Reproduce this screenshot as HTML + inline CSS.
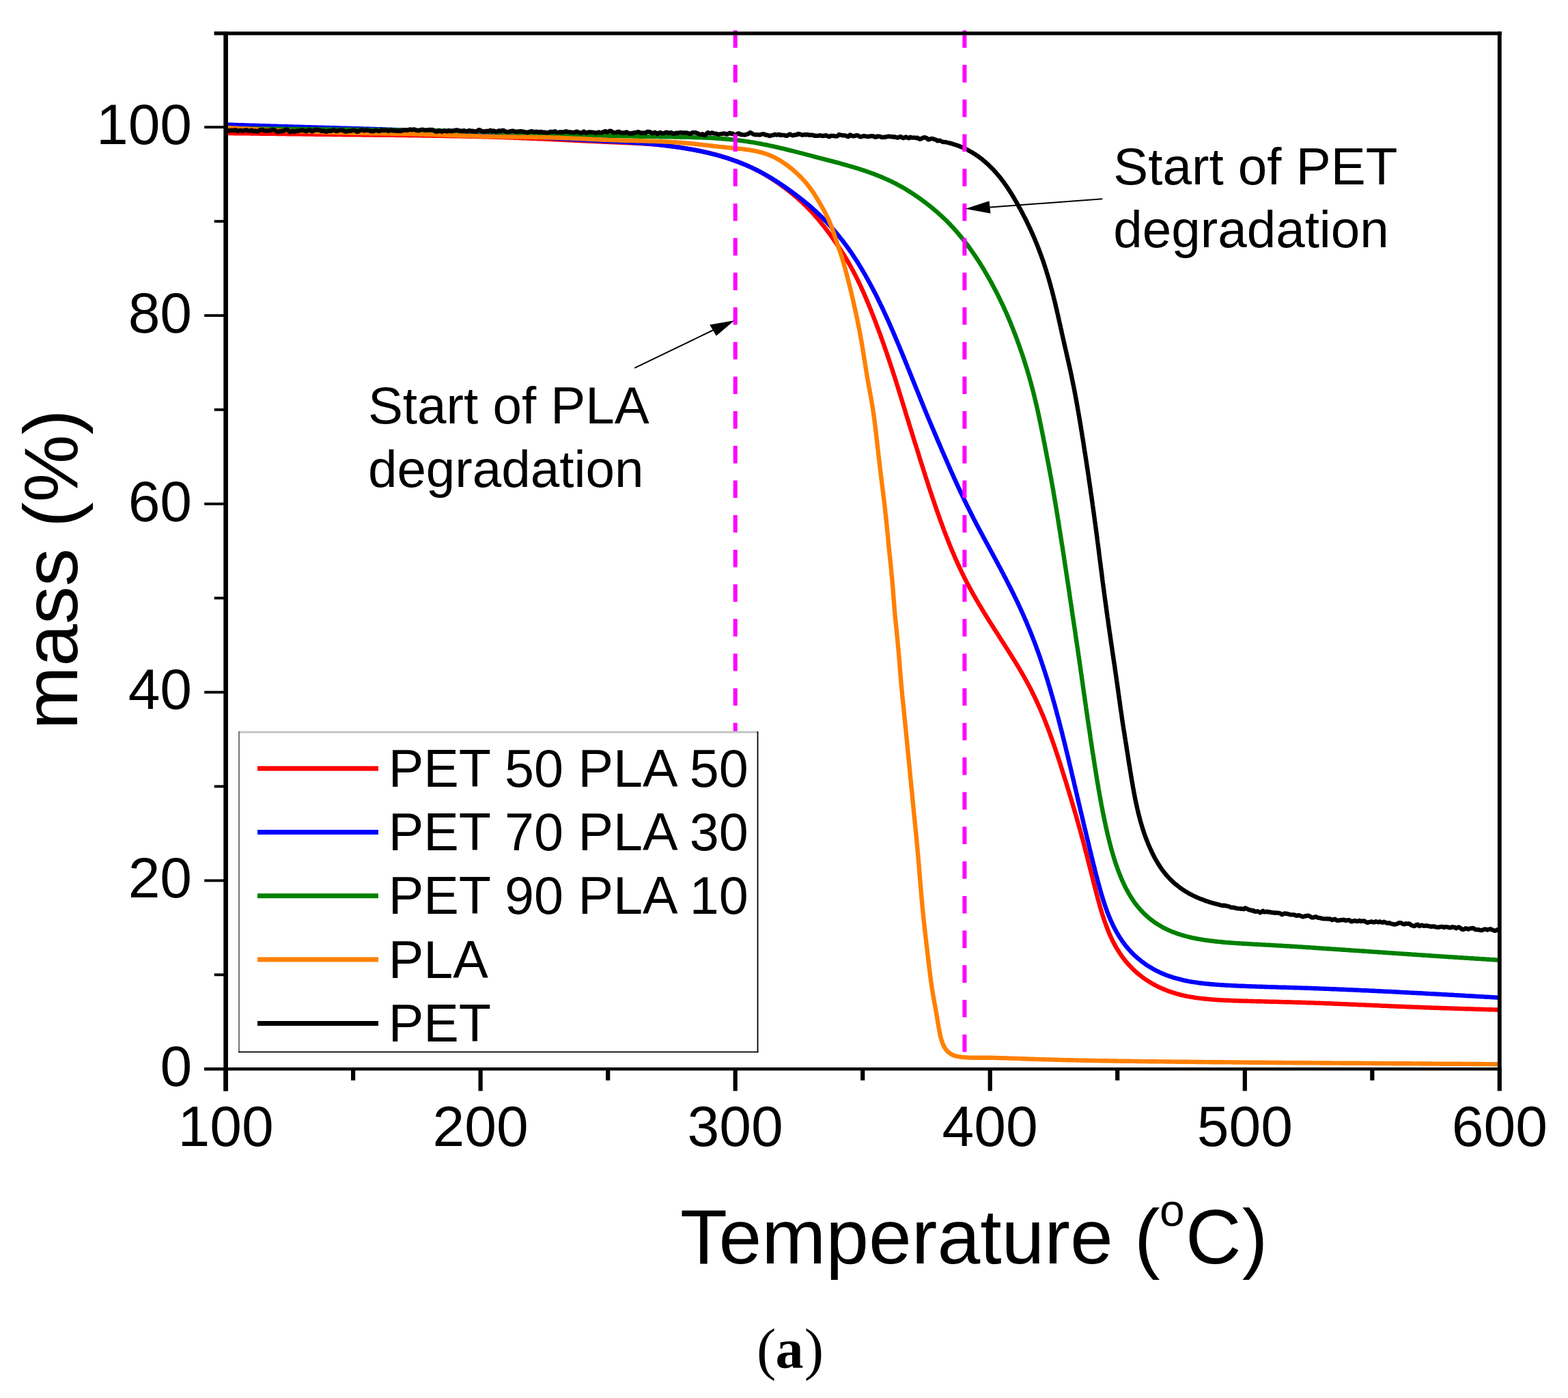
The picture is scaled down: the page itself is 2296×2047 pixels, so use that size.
<!DOCTYPE html>
<html><head><meta charset="utf-8"><title>TGA mass vs temperature</title>
<style>html,body{margin:0;padding:0;background:#fff;}body{width:2296px;height:2047px;overflow:hidden;}svg{display:block;}text{font-family:'Liberation Sans', sans-serif;fill:#000;}</style>
</head><body>
<svg xmlns="http://www.w3.org/2000/svg" width="2296" height="2047" viewBox="0 0 2296 2047">
<rect width="2296" height="2047" fill="#fff"/>
<defs><clipPath id="pc"><rect x="330.6" y="48.8" width="1867.2" height="1516.4"/></clipPath></defs>
<g clip-path="url(#pc)" fill="none" stroke-width="6.4" stroke-linejoin="round" stroke-linecap="butt">
<path d="M331.0 195.0L333.0 195.0L335.0 195.1L337.0 195.1L339.0 195.1L341.0 195.1L343.0 195.2L345.0 195.2L347.0 195.2L349.0 195.2L351.0 195.3L353.0 195.3L355.0 195.3L357.0 195.3L359.0 195.4L361.0 195.4L363.0 195.4L365.0 195.4L367.0 195.5L369.0 195.5L371.0 195.5L373.0 195.6L375.0 195.6L377.0 195.6L379.0 195.6L381.0 195.7L383.0 195.7L385.0 195.7L387.0 195.7L389.0 195.8L390.9 195.8L392.9 195.8L394.9 195.8L396.9 195.9L398.9 195.9L400.9 195.9L402.9 195.9L404.9 196.0L406.9 196.0L408.9 196.0L410.9 196.0L412.9 196.1L414.9 196.1L416.9 196.1L418.9 196.1L420.9 196.2L422.9 196.2L424.9 196.2L426.9 196.2L428.9 196.3L430.9 196.3L432.9 196.3L434.9 196.3L436.9 196.4L438.9 196.4L440.9 196.4L442.9 196.4L444.9 196.5L446.9 196.5L448.9 196.5L450.9 196.5L452.9 196.6L454.9 196.6L456.9 196.6L458.9 196.6L460.9 196.7L462.9 196.7L464.9 196.7L466.9 196.7L468.9 196.8L470.9 196.8L472.9 196.8L474.9 196.8L476.9 196.9L478.9 196.9L480.9 196.9L482.9 196.9L484.9 197.0L486.9 197.0L488.9 197.0L490.9 197.0L492.9 197.0L494.9 197.1L496.9 197.1L498.9 197.1L500.9 197.1L502.9 197.2L504.9 197.2L506.9 197.2L508.9 197.2L510.9 197.2L512.9 197.3L514.8 197.3L516.8 197.3L518.8 197.3L520.8 197.4L522.8 197.4L524.8 197.4L526.8 197.4L528.8 197.4L530.8 197.5L532.8 197.5L534.8 197.5L536.8 197.5L538.8 197.5L540.8 197.6L542.8 197.6L544.8 197.6L546.8 197.6L548.8 197.7L550.8 197.7L552.8 197.7L554.8 197.7L556.8 197.7L558.8 197.8L560.8 197.8L562.8 197.8L564.8 197.8L566.8 197.8L568.8 197.9L570.8 197.9L572.8 197.9L574.8 197.9L576.8 197.9L578.8 198.0L580.8 198.0L582.8 198.0L584.8 198.0L586.8 198.1L588.8 198.1L590.8 198.1L592.8 198.1L594.8 198.1L596.8 198.2L598.8 198.2L600.8 198.2L602.8 198.2L604.8 198.3L606.8 198.3L608.8 198.3L610.8 198.3L612.8 198.4L614.8 198.4L616.8 198.4L618.8 198.5L620.8 198.5L622.8 198.5L624.8 198.5L626.8 198.6L628.8 198.6L630.8 198.6L632.8 198.7L634.8 198.7L636.8 198.7L638.8 198.7L640.8 198.8L642.8 198.8L644.8 198.8L646.7 198.9L648.7 198.9L650.7 199.0L652.7 199.0L654.7 199.0L656.7 199.1L658.7 199.1L660.7 199.1L662.7 199.2L664.7 199.2L666.7 199.3L668.7 199.3L670.7 199.3L672.7 199.4L674.7 199.4L676.7 199.5L678.7 199.5L680.7 199.5L682.7 199.6L684.7 199.6L686.7 199.7L688.7 199.7L690.7 199.8L692.7 199.8L694.7 199.9L696.7 199.9L698.7 200.0L700.7 200.0L702.7 200.1L704.7 200.1L706.7 200.2L708.7 200.3L710.7 200.3L712.7 200.4L714.7 200.4L716.7 200.5L718.7 200.5L720.7 200.6L722.7 200.7L724.7 200.7L726.7 200.8L728.7 200.9L730.7 200.9L732.7 201.0L734.6 201.1L736.6 201.1L738.6 201.2L740.6 201.3L742.6 201.3L744.6 201.4L746.6 201.5L748.6 201.6L750.6 201.6L752.6 201.7L754.6 201.8L756.6 201.9L758.6 201.9L760.6 202.0L762.6 202.1L764.6 202.2L766.6 202.3L768.6 202.3L770.6 202.4L772.6 202.5L774.6 202.6L776.6 202.7L778.6 202.8L780.6 202.8L782.6 202.9L784.6 203.0L786.6 203.1L788.6 203.2L790.6 203.3L792.6 203.4L794.6 203.4L796.6 203.5L798.6 203.6L800.5 203.7L802.5 203.8L804.5 203.9L806.5 204.0L808.5 204.1L810.5 204.2L812.5 204.3L814.5 204.4L816.5 204.4L818.5 204.5L820.5 204.6L822.5 204.7L824.5 204.8L826.5 204.9L828.5 205.0L830.5 205.1L832.5 205.2L834.5 205.3L836.5 205.4L838.5 205.5L840.5 205.6L842.5 205.7L844.5 205.8L846.5 205.9L848.5 206.0L850.5 206.1L852.5 206.2L854.5 206.3L856.4 206.4L858.4 206.5L860.4 206.6L862.4 206.7L864.4 206.8L866.4 206.8L868.4 206.9L870.4 207.0L872.4 207.1L874.4 207.2L876.4 207.3L878.4 207.4L880.4 207.5L882.4 207.6L884.4 207.7L886.4 207.8L888.4 207.9L890.4 207.9L892.4 208.0L894.4 208.1L896.4 208.2L898.4 208.3L900.4 208.4L902.4 208.5L904.4 208.5L906.4 208.6L908.4 208.7L910.4 208.8L912.4 208.9L914.4 209.0L916.4 209.0L918.4 209.1L920.4 209.2L922.3 209.3L924.3 209.4L926.3 209.5L928.3 209.6L930.3 209.7L932.3 209.8L934.3 209.9L936.3 210.0L938.3 210.1L940.3 210.2L942.3 210.3L944.3 210.5L946.3 210.6L948.3 210.7L950.3 210.9L952.3 211.0L954.3 211.2L956.2 211.3L958.2 211.5L960.2 211.7L962.2 211.9L964.2 212.0L966.2 212.2L968.2 212.4L970.2 212.6L972.2 212.9L974.1 213.1L976.1 213.3L978.1 213.5L980.1 213.8L982.1 214.0L984.1 214.3L986.0 214.5L988.0 214.8L990.0 215.1L992.0 215.4L994.0 215.6L995.9 215.9L997.9 216.2L999.9 216.5L1001.9 216.9L1003.8 217.2L1005.8 217.5L1007.8 217.8L1009.8 218.2L1011.7 218.5L1013.7 218.9L1015.7 219.2L1017.6 219.6L1019.6 220.0L1021.6 220.3L1023.5 220.7L1025.5 221.1L1027.4 221.6L1029.4 222.0L1031.4 222.4L1033.3 222.8L1035.3 223.3L1037.2 223.7L1039.1 224.2L1041.1 224.7L1043.0 225.2L1045.0 225.7L1046.9 226.2L1048.8 226.7L1050.8 227.2L1052.7 227.7L1054.6 228.3L1056.5 228.9L1058.4 229.4L1060.3 230.0L1062.2 230.6L1064.2 231.2L1066.0 231.8L1067.9 232.4L1069.8 233.1L1071.7 233.7L1073.6 234.4L1075.5 235.1L1077.4 235.7L1079.2 236.4L1081.1 237.1L1083.0 237.9L1084.8 238.6L1086.7 239.3L1088.5 240.1L1090.3 240.9L1092.2 241.6L1094.0 242.4L1095.8 243.2L1097.6 244.1L1099.4 244.9L1101.2 245.7L1103.0 246.6L1104.8 247.5L1106.6 248.4L1108.4 249.3L1110.2 250.2L1111.9 251.1L1113.7 252.1L1115.4 253.0L1117.2 254.0L1118.9 255.0L1120.6 256.0L1122.3 257.0L1124.0 258.0L1125.8 259.0L1127.4 260.1L1129.1 261.2L1130.8 262.2L1132.5 263.3L1134.2 264.4L1135.8 265.5L1137.5 266.6L1139.1 267.8L1140.7 268.9L1142.4 270.1L1144.0 271.2L1145.6 272.4L1147.2 273.6L1148.8 274.8L1150.4 276.0L1152.0 277.2L1153.6 278.4L1155.1 279.7L1156.7 280.9L1158.2 282.2L1159.8 283.4L1161.3 284.7L1162.8 286.0L1164.4 287.3L1165.9 288.5L1167.4 289.9L1168.9 291.2L1170.3 292.5L1171.8 293.8L1173.3 295.2L1174.7 296.5L1176.2 297.9L1177.6 299.3L1179.0 300.6L1180.4 302.0L1181.9 303.4L1183.2 304.8L1184.6 306.3L1186.0 307.7L1187.4 309.1L1188.7 310.6L1190.1 312.0L1191.4 313.5L1192.7 315.0L1194.0 316.5L1195.3 318.0L1196.6 319.5L1197.9 321.0L1199.2 322.5L1200.4 324.0L1201.7 325.6L1203.0 327.1L1204.2 328.7L1205.4 330.2L1206.7 331.8L1207.9 333.3L1209.1 334.9L1210.3 336.5L1211.5 338.1L1212.7 339.7L1213.9 341.3L1215.1 342.9L1216.3 344.5L1217.4 346.1L1218.6 347.7L1219.7 349.4L1220.9 351.0L1222.0 352.6L1223.2 354.3L1224.3 355.9L1225.4 357.6L1226.5 359.2L1227.7 360.9L1228.8 362.5L1229.9 364.2L1230.9 365.9L1232.0 367.5L1233.1 369.2L1234.2 370.9L1235.2 372.6L1236.3 374.3L1237.3 376.0L1238.4 377.7L1239.4 379.4L1240.4 381.1L1241.4 382.9L1242.4 384.6L1243.4 386.3L1244.4 388.0L1245.4 389.8L1246.3 391.5L1247.3 393.3L1248.3 395.0L1249.2 396.8L1250.1 398.6L1251.1 400.3L1252.0 402.1L1252.9 403.9L1253.8 405.6L1254.7 407.4L1255.6 409.2L1256.4 411.0L1257.3 412.8L1258.2 414.6L1259.0 416.4L1259.9 418.2L1260.7 420.0L1261.5 421.9L1262.4 423.7L1263.2 425.5L1264.0 427.3L1264.8 429.1L1265.6 431.0L1266.4 432.8L1267.2 434.6L1268.0 436.5L1268.7 438.3L1269.5 440.2L1270.3 442.0L1271.1 443.9L1271.8 445.7L1272.6 447.6L1273.3 449.4L1274.1 451.3L1274.8 453.1L1275.6 455.0L1276.3 456.8L1277.0 458.7L1277.8 460.6L1278.5 462.4L1279.2 464.3L1279.9 466.2L1280.7 468.0L1281.4 469.9L1282.1 471.8L1282.8 473.6L1283.5 475.5L1284.2 477.4L1284.9 479.3L1285.6 481.1L1286.3 483.0L1287.0 484.9L1287.7 486.8L1288.4 488.6L1289.1 490.5L1289.7 492.4L1290.4 494.3L1291.1 496.2L1291.8 498.1L1292.4 499.9L1293.1 501.8L1293.8 503.7L1294.4 505.6L1295.1 507.5L1295.7 509.4L1296.4 511.3L1297.1 513.2L1297.7 515.0L1298.4 516.9L1299.0 518.8L1299.6 520.7L1300.3 522.6L1300.9 524.5L1301.6 526.4L1302.2 528.3L1302.8 530.2L1303.5 532.1L1304.1 534.0L1304.7 535.9L1305.3 537.8L1306.0 539.7L1306.6 541.6L1307.2 543.5L1307.8 545.4L1308.4 547.3L1309.0 549.2L1309.7 551.1L1310.3 553.0L1310.9 554.9L1311.5 556.8L1312.1 558.7L1312.7 560.6L1313.3 562.5L1313.9 564.4L1314.5 566.4L1315.1 568.3L1315.7 570.2L1316.3 572.1L1316.8 574.0L1317.4 575.9L1318.0 577.8L1318.6 579.7L1319.2 581.6L1319.8 583.5L1320.4 585.5L1321.0 587.4L1321.6 589.3L1322.1 591.2L1322.7 593.1L1323.3 595.0L1323.9 596.9L1324.5 598.8L1325.1 600.7L1325.7 602.6L1326.2 604.6L1326.8 606.5L1327.4 608.4L1328.0 610.3L1328.6 612.2L1329.2 614.1L1329.8 616.0L1330.4 617.9L1330.9 619.8L1331.5 621.7L1332.1 623.7L1332.7 625.6L1333.3 627.5L1333.9 629.4L1334.5 631.3L1335.1 633.2L1335.7 635.1L1336.3 637.0L1336.8 638.9L1337.4 640.8L1338.0 642.8L1338.6 644.7L1339.2 646.6L1339.8 648.5L1340.4 650.4L1341.0 652.3L1341.6 654.2L1342.2 656.1L1342.8 658.0L1343.4 659.9L1344.0 661.8L1344.6 663.7L1345.2 665.7L1345.8 667.6L1346.3 669.5L1346.9 671.4L1347.5 673.3L1348.1 675.2L1348.7 677.1L1349.3 679.0L1349.9 680.9L1350.6 682.8L1351.2 684.7L1351.8 686.6L1352.4 688.5L1353.0 690.4L1353.6 692.3L1354.2 694.2L1354.8 696.2L1355.4 698.1L1356.0 700.0L1356.6 701.9L1357.3 703.8L1357.9 705.7L1358.5 707.6L1359.1 709.5L1359.7 711.4L1360.3 713.3L1361.0 715.2L1361.6 717.1L1362.2 719.0L1362.8 720.9L1363.5 722.8L1364.1 724.7L1364.7 726.6L1365.4 728.5L1366.0 730.4L1366.7 732.2L1367.3 734.1L1367.9 736.0L1368.6 737.9L1369.2 739.8L1369.9 741.7L1370.5 743.6L1371.2 745.5L1371.8 747.4L1372.5 749.3L1373.2 751.2L1373.8 753.0L1374.5 754.9L1375.2 756.8L1375.8 758.7L1376.5 760.6L1377.2 762.5L1377.9 764.3L1378.6 766.2L1379.2 768.1L1379.9 770.0L1380.6 771.8L1381.3 773.7L1382.0 775.6L1382.7 777.5L1383.4 779.3L1384.1 781.2L1384.9 783.1L1385.6 784.9L1386.3 786.8L1387.0 788.7L1387.8 790.5L1388.5 792.4L1389.2 794.2L1390.0 796.1L1390.7 797.9L1391.5 799.8L1392.2 801.6L1393.0 803.5L1393.7 805.3L1394.5 807.2L1395.3 809.0L1396.1 810.8L1396.9 812.7L1397.6 814.5L1398.4 816.3L1399.2 818.2L1400.0 820.0L1400.9 821.8L1401.7 823.6L1402.5 825.5L1403.3 827.3L1404.2 829.1L1405.0 830.9L1405.8 832.7L1406.7 834.5L1407.5 836.3L1408.4 838.1L1409.3 839.9L1410.2 841.7L1411.0 843.5L1411.9 845.3L1412.8 847.1L1413.7 848.8L1414.6 850.6L1415.5 852.4L1416.5 854.2L1417.4 855.9L1418.3 857.7L1419.3 859.4L1420.2 861.2L1421.2 862.9L1422.1 864.7L1423.1 866.4L1424.1 868.2L1425.0 869.9L1426.0 871.7L1427.0 873.4L1428.0 875.1L1429.0 876.9L1430.0 878.6L1431.0 880.3L1432.0 882.0L1433.0 883.8L1434.0 885.5L1435.1 887.2L1436.1 888.9L1437.1 890.6L1438.1 892.3L1439.2 894.1L1440.2 895.8L1441.3 897.5L1442.3 899.2L1443.4 900.9L1444.4 902.6L1445.5 904.3L1446.5 906.0L1447.6 907.7L1448.6 909.4L1449.7 911.1L1450.8 912.7L1451.8 914.4L1452.9 916.1L1454.0 917.8L1455.1 919.5L1456.1 921.2L1457.2 922.9L1458.3 924.6L1459.4 926.3L1460.5 927.9L1461.5 929.6L1462.6 931.3L1463.7 933.0L1464.8 934.7L1465.9 936.4L1466.9 938.0L1468.0 939.7L1469.1 941.4L1470.2 943.1L1471.2 944.8L1472.3 946.5L1473.4 948.2L1474.5 949.8L1475.6 951.5L1476.6 953.2L1477.7 954.9L1478.8 956.6L1479.8 958.3L1480.9 960.0L1482.0 961.7L1483.0 963.4L1484.1 965.1L1485.1 966.8L1486.2 968.5L1487.2 970.2L1488.3 971.9L1489.3 973.6L1490.3 975.3L1491.4 977.0L1492.4 978.7L1493.4 980.5L1494.4 982.2L1495.4 983.9L1496.4 985.6L1497.4 987.3L1498.4 989.1L1499.4 990.8L1500.4 992.5L1501.3 994.3L1502.3 996.0L1503.3 997.8L1504.2 999.5L1505.2 1001.3L1506.1 1003.0L1507.0 1004.8L1508.0 1006.6L1508.9 1008.3L1509.8 1010.1L1510.7 1011.9L1511.6 1013.7L1512.5 1015.5L1513.3 1017.3L1514.2 1019.0L1515.1 1020.8L1515.9 1022.6L1516.8 1024.4L1517.6 1026.2L1518.5 1028.1L1519.3 1029.9L1520.1 1031.7L1521.0 1033.5L1521.8 1035.3L1522.6 1037.1L1523.4 1039.0L1524.2 1040.8L1524.9 1042.6L1525.7 1044.5L1526.5 1046.3L1527.3 1048.2L1528.0 1050.0L1528.8 1051.8L1529.5 1053.7L1530.3 1055.5L1531.0 1057.4L1531.7 1059.3L1532.4 1061.1L1533.2 1063.0L1533.9 1064.9L1534.6 1066.7L1535.3 1068.6L1536.0 1070.5L1536.7 1072.3L1537.4 1074.2L1538.1 1076.1L1538.7 1078.0L1539.4 1079.8L1540.1 1081.7L1540.7 1083.6L1541.4 1085.5L1542.1 1087.4L1542.7 1089.3L1543.4 1091.2L1544.0 1093.1L1544.7 1094.9L1545.3 1096.8L1545.9 1098.7L1546.6 1100.6L1547.2 1102.5L1547.8 1104.4L1548.5 1106.3L1549.1 1108.2L1549.7 1110.1L1550.3 1112.0L1551.0 1113.9L1551.6 1115.8L1552.2 1117.7L1552.8 1119.6L1553.4 1121.5L1554.0 1123.4L1554.6 1125.4L1555.2 1127.3L1555.8 1129.2L1556.4 1131.1L1557.0 1133.0L1557.6 1134.9L1558.2 1136.8L1558.8 1138.7L1559.4 1140.6L1560.0 1142.5L1560.6 1144.4L1561.2 1146.3L1561.8 1148.3L1562.4 1150.2L1562.9 1152.1L1563.5 1154.0L1564.1 1155.9L1564.7 1157.8L1565.3 1159.7L1565.9 1161.6L1566.4 1163.6L1567.0 1165.5L1567.6 1167.4L1568.2 1169.3L1568.8 1171.2L1569.3 1173.1L1569.9 1175.0L1570.5 1177.0L1571.0 1178.9L1571.6 1180.8L1572.2 1182.7L1572.7 1184.6L1573.3 1186.5L1573.9 1188.5L1574.4 1190.4L1575.0 1192.3L1575.5 1194.2L1576.1 1196.1L1576.6 1198.1L1577.2 1200.0L1577.7 1201.9L1578.3 1203.8L1578.8 1205.7L1579.3 1207.7L1579.9 1209.6L1580.4 1211.5L1581.0 1213.5L1581.5 1215.4L1582.0 1217.3L1582.5 1219.2L1583.1 1221.2L1583.6 1223.1L1584.1 1225.0L1584.6 1227.0L1585.2 1228.9L1585.7 1230.8L1586.2 1232.8L1586.7 1234.7L1587.2 1236.6L1587.7 1238.6L1588.2 1240.5L1588.7 1242.4L1589.2 1244.4L1589.7 1246.3L1590.3 1248.3L1590.8 1250.2L1591.3 1252.1L1591.8 1254.1L1592.3 1256.0L1592.7 1258.0L1593.2 1259.9L1593.7 1261.9L1594.2 1263.8L1594.7 1265.7L1595.2 1267.7L1595.7 1269.6L1596.2 1271.6L1596.7 1273.5L1597.2 1275.5L1597.7 1277.4L1598.2 1279.4L1598.7 1281.3L1599.2 1283.3L1599.7 1285.2L1600.1 1287.2L1600.6 1289.1L1601.1 1291.1L1601.6 1293.0L1602.1 1295.0L1602.6 1296.9L1603.1 1298.9L1603.6 1300.8L1604.1 1302.8L1604.6 1304.7L1605.1 1306.7L1605.6 1308.6L1606.2 1310.6L1606.7 1312.5L1607.2 1314.5L1607.7 1316.4L1608.2 1318.4L1608.8 1320.3L1609.3 1322.3L1609.8 1324.2L1610.4 1326.1L1610.9 1328.1L1611.5 1330.0L1612.1 1331.9L1612.6 1333.9L1613.2 1335.8L1613.8 1337.7L1614.4 1339.6L1615.0 1341.5L1615.6 1343.4L1616.3 1345.4L1616.9 1347.3L1617.6 1349.1L1618.2 1351.0L1618.9 1352.9L1619.6 1354.8L1620.3 1356.7L1621.0 1358.5L1621.7 1360.4L1622.4 1362.3L1623.2 1364.1L1623.9 1366.0L1624.7 1367.8L1625.5 1369.6L1626.3 1371.4L1627.2 1373.2L1628.0 1375.0L1628.9 1376.8L1629.7 1378.6L1630.7 1380.3L1631.6 1382.1L1632.5 1383.8L1633.5 1385.6L1634.5 1387.3L1635.5 1389.0L1636.5 1390.7L1637.5 1392.4L1638.6 1394.0L1639.7 1395.7L1640.8 1397.3L1641.9 1398.9L1643.0 1400.5L1644.2 1402.1L1645.4 1403.7L1646.6 1405.2L1647.8 1406.8L1649.1 1408.3L1650.4 1409.8L1651.6 1411.3L1653.0 1412.7L1654.3 1414.2L1655.6 1415.6L1657.0 1417.0L1658.4 1418.4L1659.8 1419.8L1661.2 1421.1L1662.7 1422.5L1664.2 1423.8L1665.6 1425.1L1667.2 1426.3L1668.7 1427.6L1670.2 1428.8L1671.8 1430.0L1673.4 1431.2L1674.9 1432.3L1676.6 1433.5L1678.2 1434.6L1679.8 1435.7L1681.5 1436.7L1683.2 1437.8L1684.8 1438.8L1686.5 1439.8L1688.3 1440.8L1690.0 1441.7L1691.7 1442.7L1693.5 1443.6L1695.2 1444.5L1697.0 1445.3L1698.8 1446.2L1700.6 1447.0L1702.4 1447.8L1704.3 1448.5L1706.1 1449.3L1707.9 1450.0L1709.8 1450.7L1711.6 1451.4L1713.5 1452.1L1715.4 1452.7L1717.3 1453.3L1719.2 1453.9L1721.1 1454.5L1723.0 1455.1L1724.9 1455.6L1726.8 1456.1L1728.7 1456.6L1730.7 1457.1L1732.6 1457.5L1734.6 1458.0L1736.5 1458.4L1738.5 1458.8L1740.4 1459.2L1742.4 1459.5L1744.4 1459.9L1746.3 1460.2L1748.3 1460.5L1750.3 1460.8L1752.3 1461.1L1754.2 1461.4L1756.2 1461.6L1758.2 1461.9L1760.2 1462.1L1762.2 1462.3L1764.2 1462.5L1766.2 1462.7L1768.2 1462.9L1770.2 1463.1L1772.2 1463.3L1774.2 1463.4L1776.2 1463.6L1778.2 1463.7L1780.2 1463.9L1782.2 1464.0L1784.2 1464.1L1786.2 1464.2L1788.2 1464.4L1790.3 1464.5L1792.3 1464.6L1794.3 1464.7L1796.3 1464.8L1798.3 1464.8L1800.3 1464.9L1802.3 1465.0L1804.3 1465.1L1806.3 1465.2L1808.3 1465.2L1810.3 1465.3L1812.3 1465.4L1814.4 1465.5L1816.4 1465.5L1818.4 1465.6L1820.4 1465.6L1822.4 1465.7L1824.4 1465.8L1826.4 1465.8L1828.4 1465.9L1830.4 1465.9L1832.4 1466.0L1834.4 1466.0L1836.4 1466.1L1838.4 1466.1L1840.4 1466.2L1842.4 1466.2L1844.4 1466.3L1846.4 1466.3L1848.4 1466.4L1850.5 1466.4L1852.5 1466.5L1854.5 1466.5L1856.5 1466.6L1858.5 1466.6L1860.5 1466.7L1862.5 1466.7L1864.5 1466.8L1866.5 1466.8L1868.5 1466.9L1870.5 1466.9L1872.5 1467.0L1874.5 1467.0L1876.5 1467.1L1878.5 1467.1L1880.5 1467.2L1882.5 1467.2L1884.5 1467.3L1886.5 1467.3L1888.5 1467.4L1890.5 1467.4L1892.5 1467.5L1894.5 1467.6L1896.5 1467.6L1898.4 1467.7L1900.4 1467.7L1902.4 1467.8L1904.4 1467.8L1906.4 1467.9L1908.4 1468.0L1910.4 1468.0L1912.4 1468.1L1914.4 1468.2L1916.4 1468.2L1918.4 1468.3L1920.4 1468.4L1922.4 1468.4L1924.4 1468.5L1926.4 1468.6L1928.4 1468.6L1930.4 1468.7L1932.4 1468.8L1934.4 1468.9L1936.4 1468.9L1938.4 1469.0L1940.4 1469.1L1942.4 1469.2L1944.4 1469.3L1946.4 1469.3L1948.4 1469.4L1950.4 1469.5L1952.4 1469.6L1954.4 1469.7L1956.4 1469.7L1958.4 1469.8L1960.3 1469.9L1962.3 1470.0L1964.3 1470.1L1966.3 1470.1L1968.3 1470.2L1970.3 1470.3L1972.3 1470.4L1974.3 1470.5L1976.3 1470.6L1978.3 1470.7L1980.3 1470.7L1982.3 1470.8L1984.3 1470.9L1986.3 1471.0L1988.3 1471.1L1990.3 1471.2L1992.3 1471.3L1994.3 1471.4L1996.3 1471.4L1998.3 1471.5L2000.3 1471.6L2002.3 1471.7L2004.3 1471.8L2006.3 1471.9L2008.3 1472.0L2010.3 1472.1L2012.3 1472.1L2014.2 1472.2L2016.2 1472.3L2018.2 1472.4L2020.2 1472.5L2022.2 1472.6L2024.2 1472.7L2026.2 1472.8L2028.2 1472.8L2030.2 1472.9L2032.2 1473.0L2034.2 1473.1L2036.2 1473.2L2038.2 1473.3L2040.2 1473.4L2042.2 1473.4L2044.2 1473.5L2046.2 1473.6L2048.2 1473.7L2050.2 1473.8L2052.2 1473.8L2054.2 1473.9L2056.2 1474.0L2058.2 1474.1L2060.2 1474.2L2062.2 1474.3L2064.2 1474.3L2066.2 1474.4L2068.2 1474.5L2070.2 1474.6L2072.2 1474.6L2074.2 1474.7L2076.1 1474.8L2078.1 1474.9L2080.1 1475.0L2082.1 1475.0L2084.1 1475.1L2086.1 1475.2L2088.1 1475.3L2090.1 1475.3L2092.1 1475.4L2094.1 1475.5L2096.1 1475.5L2098.1 1475.6L2100.1 1475.7L2102.1 1475.8L2104.1 1475.8L2106.1 1475.9L2108.1 1476.0L2110.1 1476.0L2112.1 1476.1L2114.1 1476.2L2116.1 1476.2L2118.1 1476.3L2120.1 1476.4L2122.1 1476.4L2124.1 1476.5L2126.1 1476.6L2128.1 1476.6L2130.1 1476.7L2132.1 1476.7L2134.1 1476.8L2136.1 1476.9L2138.1 1476.9L2140.1 1477.0L2142.1 1477.1L2144.1 1477.1L2146.1 1477.2L2148.1 1477.2L2150.1 1477.3L2152.0 1477.4L2154.0 1477.4L2156.0 1477.5L2158.0 1477.5L2160.0 1477.6L2162.0 1477.7L2164.0 1477.7L2166.0 1477.8L2168.0 1477.8L2170.0 1477.9L2172.0 1478.0L2174.0 1478.0L2176.0 1478.1L2178.0 1478.1L2180.0 1478.2L2182.0 1478.3L2184.0 1478.3L2186.0 1478.4L2188.0 1478.4L2190.0 1478.5L2192.0 1478.5L2194.0 1478.6" stroke="#ff0000"/>
<path d="M331.0 182.5L333.0 182.6L335.0 182.6L337.0 182.7L339.0 182.8L341.0 182.8L343.0 182.9L345.0 182.9L347.0 183.0L349.0 183.1L351.0 183.1L353.0 183.2L355.0 183.3L357.0 183.3L359.0 183.4L361.0 183.5L363.0 183.5L365.0 183.6L367.0 183.6L369.0 183.7L371.0 183.8L373.0 183.8L375.0 183.9L377.0 184.0L379.0 184.0L381.0 184.1L383.0 184.1L385.0 184.2L387.0 184.3L389.0 184.3L391.0 184.4L393.0 184.4L395.0 184.5L397.0 184.6L399.0 184.6L401.0 184.7L403.0 184.8L405.0 184.8L406.9 184.9L408.9 184.9L410.9 185.0L412.9 185.1L414.9 185.1L416.9 185.2L418.9 185.2L420.9 185.3L422.9 185.4L424.9 185.4L426.9 185.5L428.9 185.5L430.9 185.6L432.9 185.7L434.9 185.7L436.9 185.8L438.9 185.8L440.9 185.9L442.9 185.9L444.9 186.0L446.9 186.1L448.9 186.1L450.9 186.2L452.9 186.2L454.9 186.3L456.9 186.4L458.9 186.4L460.9 186.5L462.9 186.5L464.9 186.6L466.9 186.6L468.9 186.7L470.9 186.8L472.9 186.8L474.9 186.9L476.9 186.9L478.9 187.0L480.9 187.0L482.9 187.1L484.9 187.2L486.9 187.2L488.9 187.3L490.9 187.3L492.9 187.4L494.9 187.4L496.9 187.5L498.9 187.6L500.9 187.6L502.9 187.7L504.9 187.7L506.9 187.8L508.9 187.9L510.9 187.9L512.9 188.0L514.9 188.0L516.9 188.1L518.9 188.1L520.9 188.2L522.9 188.3L524.9 188.3L526.9 188.4L528.9 188.4L530.9 188.5L532.9 188.6L534.9 188.6L536.9 188.7L538.9 188.7L540.9 188.8L542.9 188.9L544.9 188.9L546.9 189.0L548.9 189.0L550.9 189.1L552.9 189.2L554.9 189.2L556.9 189.3L558.9 189.3L560.9 189.4L562.9 189.5L564.9 189.5L566.9 189.6L568.9 189.7L570.9 189.7L572.9 189.8L574.9 189.9L576.9 189.9L578.9 190.0L580.9 190.1L582.8 190.1L584.8 190.2L586.8 190.3L588.8 190.3L590.8 190.4L592.8 190.5L594.8 190.5L596.8 190.6L598.8 190.7L600.8 190.7L602.8 190.8L604.8 190.9L606.8 191.0L608.8 191.0L610.8 191.1L612.8 191.2L614.8 191.2L616.8 191.3L618.8 191.4L620.8 191.5L622.8 191.6L624.8 191.6L626.8 191.7L628.8 191.8L630.8 191.9L632.8 192.0L634.8 192.0L636.8 192.1L638.8 192.2L640.8 192.3L642.8 192.4L644.8 192.4L646.8 192.5L648.8 192.6L650.8 192.7L652.8 192.8L654.8 192.9L656.8 193.0L658.8 193.1L660.8 193.2L662.8 193.3L664.8 193.3L666.8 193.4L668.8 193.5L670.8 193.6L672.8 193.7L674.8 193.8L676.8 193.9L678.7 194.0L680.7 194.1L682.7 194.2L684.7 194.3L686.7 194.4L688.7 194.5L690.7 194.6L692.7 194.8L694.7 194.9L696.7 195.0L698.7 195.1L700.7 195.2L702.7 195.3L704.7 195.4L706.7 195.5L708.7 195.6L710.7 195.8L712.7 195.9L714.7 196.0L716.7 196.1L718.7 196.2L720.7 196.4L722.7 196.5L724.7 196.6L726.7 196.7L728.7 196.9L730.6 197.0L732.6 197.1L734.6 197.2L736.6 197.4L738.6 197.5L740.6 197.6L742.6 197.7L744.6 197.9L746.6 198.0L748.6 198.1L750.6 198.3L752.6 198.4L754.6 198.5L756.6 198.7L758.6 198.8L760.6 198.9L762.6 199.0L764.6 199.2L766.6 199.3L768.6 199.4L770.6 199.6L772.5 199.7L774.5 199.8L776.5 200.0L778.5 200.1L780.5 200.2L782.5 200.4L784.5 200.5L786.5 200.6L788.5 200.8L790.5 200.9L792.5 201.0L794.5 201.2L796.5 201.3L798.5 201.4L800.5 201.6L802.5 201.7L804.5 201.8L806.5 201.9L808.5 202.1L810.5 202.2L812.5 202.3L814.5 202.5L816.5 202.6L818.4 202.7L820.4 202.8L822.4 203.0L824.4 203.1L826.4 203.2L828.4 203.3L830.4 203.5L832.4 203.6L834.4 203.7L836.4 203.8L838.4 203.9L840.4 204.1L842.4 204.2L844.4 204.3L846.4 204.4L848.4 204.5L850.4 204.6L852.4 204.7L854.4 204.9L856.4 205.0L858.4 205.1L860.4 205.2L862.4 205.3L864.4 205.4L866.4 205.5L868.4 205.6L870.4 205.7L872.4 205.8L874.4 205.9L876.4 206.0L878.4 206.1L880.4 206.2L882.4 206.3L884.4 206.4L886.4 206.5L888.4 206.6L890.4 206.7L892.4 206.8L894.4 206.9L896.4 207.0L898.4 207.1L900.4 207.2L902.4 207.3L904.4 207.4L906.4 207.5L908.4 207.6L910.3 207.7L912.3 207.8L914.3 208.0L916.3 208.1L918.3 208.2L920.3 208.3L922.3 208.4L924.3 208.6L926.3 208.7L928.3 208.8L930.3 209.0L932.3 209.1L934.3 209.3L936.3 209.4L938.3 209.6L940.3 209.7L942.3 209.9L944.3 210.0L946.3 210.2L948.3 210.4L950.3 210.5L952.3 210.7L954.2 210.9L956.2 211.1L958.2 211.3L960.2 211.5L962.2 211.7L964.2 211.9L966.2 212.1L968.2 212.4L970.2 212.6L972.1 212.8L974.1 213.1L976.1 213.3L978.1 213.6L980.1 213.8L982.1 214.1L984.1 214.3L986.0 214.6L988.0 214.9L990.0 215.2L992.0 215.5L994.0 215.7L995.9 216.0L997.9 216.4L999.9 216.7L1001.9 217.0L1003.9 217.3L1005.8 217.6L1007.8 218.0L1009.8 218.3L1011.7 218.7L1013.7 219.0L1015.7 219.4L1017.7 219.7L1019.6 220.1L1021.6 220.5L1023.5 220.9L1025.5 221.3L1027.5 221.7L1029.4 222.1L1031.4 222.6L1033.3 223.0L1035.3 223.4L1037.2 223.9L1039.2 224.4L1041.1 224.8L1043.0 225.3L1045.0 225.8L1046.9 226.3L1048.8 226.8L1050.8 227.4L1052.7 227.9L1054.6 228.4L1056.5 229.0L1058.4 229.6L1060.3 230.1L1062.3 230.7L1064.2 231.3L1066.1 231.9L1068.0 232.6L1069.8 233.2L1071.7 233.8L1073.6 234.5L1075.5 235.2L1077.4 235.8L1079.2 236.5L1081.1 237.2L1083.0 237.9L1084.8 238.7L1086.7 239.4L1088.5 240.2L1090.4 240.9L1092.2 241.7L1094.0 242.5L1095.8 243.3L1097.7 244.1L1099.5 244.9L1101.3 245.7L1103.1 246.6L1104.9 247.4L1106.7 248.3L1108.5 249.2L1110.2 250.1L1112.0 251.0L1113.8 251.9L1115.5 252.9L1117.3 253.8L1119.0 254.8L1120.8 255.8L1122.5 256.7L1124.2 257.7L1125.9 258.7L1127.7 259.8L1129.4 260.8L1131.1 261.8L1132.8 262.9L1134.5 263.9L1136.1 265.0L1137.8 266.1L1139.5 267.2L1141.2 268.3L1142.8 269.4L1144.5 270.5L1146.2 271.6L1147.8 272.7L1149.5 273.9L1151.1 275.0L1152.7 276.2L1154.4 277.3L1156.0 278.5L1157.6 279.6L1159.3 280.8L1160.9 282.0L1162.5 283.2L1164.1 284.4L1165.7 285.6L1167.3 286.8L1168.9 288.0L1170.5 289.2L1172.0 290.4L1173.6 291.7L1175.2 292.9L1176.7 294.2L1178.3 295.4L1179.8 296.7L1181.4 298.0L1182.9 299.2L1184.4 300.5L1186.0 301.8L1187.5 303.1L1189.0 304.4L1190.5 305.8L1191.9 307.1L1193.4 308.4L1194.9 309.8L1196.3 311.1L1197.8 312.5L1199.2 313.9L1200.7 315.3L1202.1 316.7L1203.5 318.1L1204.9 319.5L1206.3 320.9L1207.7 322.3L1209.1 323.8L1210.5 325.2L1211.8 326.7L1213.2 328.1L1214.5 329.6L1215.9 331.1L1217.2 332.6L1218.5 334.1L1219.8 335.6L1221.1 337.1L1222.4 338.6L1223.7 340.1L1225.0 341.6L1226.3 343.2L1227.6 344.7L1228.8 346.3L1230.1 347.8L1231.3 349.4L1232.5 350.9L1233.8 352.5L1235.0 354.1L1236.2 355.7L1237.4 357.3L1238.6 358.9L1239.8 360.5L1240.9 362.1L1242.1 363.7L1243.3 365.4L1244.4 367.0L1245.6 368.6L1246.7 370.3L1247.8 371.9L1248.9 373.6L1250.0 375.2L1251.1 376.9L1252.2 378.6L1253.3 380.3L1254.4 381.9L1255.5 383.6L1256.5 385.3L1257.6 387.0L1258.6 388.7L1259.7 390.4L1260.7 392.1L1261.7 393.9L1262.7 395.6L1263.8 397.3L1264.8 399.0L1265.8 400.7L1266.8 402.5L1267.8 404.2L1268.7 406.0L1269.7 407.7L1270.7 409.5L1271.7 411.2L1272.6 413.0L1273.6 414.7L1274.5 416.5L1275.5 418.2L1276.4 420.0L1277.4 421.8L1278.3 423.5L1279.2 425.3L1280.1 427.1L1281.1 428.9L1282.0 430.6L1282.9 432.4L1283.8 434.2L1284.7 436.0L1285.6 437.8L1286.4 439.6L1287.3 441.4L1288.2 443.2L1289.1 445.0L1289.9 446.8L1290.8 448.6L1291.7 450.4L1292.5 452.2L1293.4 454.0L1294.2 455.8L1295.1 457.7L1295.9 459.5L1296.7 461.3L1297.6 463.1L1298.4 464.9L1299.2 466.8L1300.1 468.6L1300.9 470.4L1301.7 472.2L1302.5 474.1L1303.3 475.9L1304.1 477.7L1304.9 479.6L1305.7 481.4L1306.5 483.2L1307.3 485.1L1308.1 486.9L1308.9 488.8L1309.7 490.6L1310.5 492.4L1311.2 494.3L1312.0 496.1L1312.8 498.0L1313.6 499.8L1314.3 501.7L1315.1 503.5L1315.9 505.3L1316.7 507.2L1317.4 509.0L1318.2 510.9L1319.0 512.7L1319.7 514.6L1320.5 516.4L1321.2 518.3L1322.0 520.1L1322.8 522.0L1323.5 523.8L1324.3 525.7L1325.0 527.6L1325.8 529.4L1326.5 531.3L1327.3 533.1L1328.0 535.0L1328.8 536.8L1329.5 538.7L1330.3 540.5L1331.0 542.4L1331.8 544.2L1332.5 546.1L1333.3 548.0L1334.0 549.8L1334.8 551.7L1335.5 553.5L1336.2 555.4L1337.0 557.2L1337.7 559.1L1338.5 561.0L1339.2 562.8L1340.0 564.7L1340.7 566.5L1341.5 568.4L1342.2 570.2L1343.0 572.1L1343.7 573.9L1344.5 575.8L1345.2 577.6L1346.0 579.5L1346.7 581.4L1347.5 583.2L1348.2 585.1L1349.0 586.9L1349.7 588.8L1350.5 590.6L1351.2 592.5L1352.0 594.3L1352.7 596.2L1353.5 598.0L1354.2 599.9L1355.0 601.7L1355.8 603.6L1356.5 605.4L1357.3 607.3L1358.1 609.1L1358.8 611.0L1359.6 612.8L1360.4 614.7L1361.1 616.5L1361.9 618.3L1362.7 620.2L1363.5 622.0L1364.2 623.9L1365.0 625.7L1365.8 627.6L1366.6 629.4L1367.4 631.2L1368.1 633.1L1368.9 634.9L1369.7 636.8L1370.5 638.6L1371.3 640.4L1372.0 642.3L1372.8 644.1L1373.6 646.0L1374.4 647.8L1375.2 649.6L1376.0 651.5L1376.8 653.3L1377.6 655.2L1378.3 657.0L1379.1 658.8L1379.9 660.7L1380.7 662.5L1381.5 664.3L1382.3 666.2L1383.1 668.0L1383.9 669.8L1384.7 671.7L1385.5 673.5L1386.3 675.3L1387.1 677.2L1387.9 679.0L1388.7 680.8L1389.5 682.7L1390.3 684.5L1391.1 686.3L1391.9 688.2L1392.7 690.0L1393.5 691.8L1394.4 693.6L1395.2 695.5L1396.0 697.3L1396.8 699.1L1397.6 700.9L1398.5 702.8L1399.3 704.6L1400.1 706.4L1400.9 708.2L1401.8 710.0L1402.6 711.8L1403.4 713.7L1404.3 715.5L1405.1 717.3L1406.0 719.1L1406.8 720.9L1407.7 722.7L1408.5 724.5L1409.4 726.3L1410.2 728.1L1411.1 729.9L1411.9 731.7L1412.8 733.5L1413.7 735.3L1414.6 737.1L1415.4 738.9L1416.3 740.7L1417.2 742.5L1418.1 744.3L1419.0 746.1L1419.9 747.9L1420.8 749.7L1421.7 751.5L1422.6 753.3L1423.5 755.0L1424.4 756.8L1425.3 758.6L1426.2 760.4L1427.1 762.1L1428.1 763.9L1429.0 765.7L1429.9 767.5L1430.8 769.2L1431.8 771.0L1432.7 772.8L1433.6 774.5L1434.6 776.3L1435.5 778.1L1436.5 779.8L1437.4 781.6L1438.4 783.3L1439.3 785.1L1440.2 786.9L1441.2 788.6L1442.1 790.4L1443.1 792.1L1444.0 793.9L1445.0 795.7L1446.0 797.4L1446.9 799.2L1447.9 800.9L1448.8 802.7L1449.8 804.5L1450.7 806.2L1451.7 808.0L1452.6 809.7L1453.6 811.5L1454.5 813.3L1455.5 815.0L1456.4 816.8L1457.4 818.5L1458.3 820.3L1459.3 822.1L1460.2 823.8L1461.2 825.6L1462.1 827.4L1463.0 829.1L1464.0 830.9L1464.9 832.6L1465.9 834.4L1466.8 836.2L1467.7 838.0L1468.7 839.7L1469.6 841.5L1470.5 843.3L1471.4 845.0L1472.4 846.8L1473.3 848.6L1474.2 850.4L1475.1 852.1L1476.0 853.9L1476.9 855.7L1477.8 857.5L1478.7 859.3L1479.6 861.1L1480.5 862.8L1481.4 864.6L1482.3 866.4L1483.2 868.2L1484.1 870.0L1485.0 871.8L1485.8 873.6L1486.7 875.4L1487.6 877.2L1488.5 879.0L1489.3 880.8L1490.2 882.6L1491.0 884.4L1491.9 886.2L1492.7 888.0L1493.6 889.9L1494.4 891.7L1495.2 893.5L1496.0 895.3L1496.9 897.1L1497.7 899.0L1498.5 900.8L1499.3 902.6L1500.1 904.4L1500.9 906.3L1501.7 908.1L1502.5 909.9L1503.3 911.8L1504.0 913.6L1504.8 915.5L1505.6 917.3L1506.4 919.2L1507.1 921.0L1507.9 922.9L1508.6 924.7L1509.4 926.6L1510.1 928.4L1510.8 930.3L1511.6 932.1L1512.3 934.0L1513.0 935.9L1513.7 937.7L1514.5 939.6L1515.2 941.5L1515.9 943.3L1516.6 945.2L1517.3 947.1L1517.9 948.9L1518.6 950.8L1519.3 952.7L1520.0 954.6L1520.7 956.5L1521.3 958.3L1522.0 960.2L1522.7 962.1L1523.3 964.0L1524.0 965.9L1524.6 967.8L1525.3 969.7L1525.9 971.6L1526.5 973.5L1527.2 975.4L1527.8 977.3L1528.4 979.2L1529.0 981.1L1529.7 983.0L1530.3 984.9L1530.9 986.8L1531.5 988.7L1532.1 990.6L1532.7 992.5L1533.3 994.4L1533.9 996.3L1534.5 998.2L1535.0 1000.1L1535.6 1002.1L1536.2 1004.0L1536.8 1005.9L1537.3 1007.8L1537.9 1009.7L1538.5 1011.6L1539.0 1013.6L1539.6 1015.5L1540.1 1017.4L1540.7 1019.3L1541.2 1021.2L1541.8 1023.2L1542.3 1025.1L1542.9 1027.0L1543.4 1028.9L1544.0 1030.9L1544.5 1032.8L1545.0 1034.7L1545.5 1036.7L1546.1 1038.6L1546.6 1040.5L1547.1 1042.5L1547.6 1044.4L1548.1 1046.3L1548.7 1048.3L1549.2 1050.2L1549.7 1052.1L1550.2 1054.1L1550.7 1056.0L1551.2 1057.9L1551.7 1059.9L1552.2 1061.8L1552.7 1063.7L1553.2 1065.7L1553.7 1067.6L1554.2 1069.5L1554.7 1071.5L1555.2 1073.4L1555.7 1075.4L1556.1 1077.3L1556.6 1079.2L1557.1 1081.2L1557.6 1083.1L1558.1 1085.1L1558.6 1087.0L1559.0 1088.9L1559.5 1090.9L1560.0 1092.8L1560.5 1094.8L1560.9 1096.7L1561.4 1098.7L1561.9 1100.6L1562.4 1102.5L1562.8 1104.5L1563.3 1106.4L1563.8 1108.4L1564.2 1110.3L1564.7 1112.3L1565.2 1114.2L1565.6 1116.2L1566.1 1118.1L1566.6 1120.0L1567.0 1122.0L1567.5 1123.9L1567.9 1125.9L1568.4 1127.8L1568.9 1129.8L1569.3 1131.7L1569.8 1133.7L1570.2 1135.6L1570.7 1137.6L1571.1 1139.5L1571.6 1141.4L1572.1 1143.4L1572.5 1145.3L1573.0 1147.3L1573.4 1149.2L1573.9 1151.2L1574.3 1153.1L1574.8 1155.1L1575.3 1157.0L1575.7 1159.0L1576.2 1160.9L1576.6 1162.9L1577.1 1164.8L1577.5 1166.7L1578.0 1168.7L1578.4 1170.6L1578.9 1172.6L1579.4 1174.5L1579.8 1176.5L1580.3 1178.4L1580.7 1180.4L1581.2 1182.3L1581.7 1184.3L1582.1 1186.2L1582.6 1188.2L1583.0 1190.1L1583.5 1192.1L1584.0 1194.0L1584.4 1195.9L1584.9 1197.9L1585.3 1199.8L1585.8 1201.8L1586.3 1203.7L1586.7 1205.7L1587.2 1207.6L1587.7 1209.6L1588.1 1211.5L1588.6 1213.5L1589.1 1215.4L1589.5 1217.4L1590.0 1219.3L1590.5 1221.3L1590.9 1223.2L1591.4 1225.2L1591.9 1227.1L1592.3 1229.1L1592.8 1231.0L1593.3 1233.0L1593.8 1234.9L1594.2 1236.9L1594.7 1238.8L1595.2 1240.8L1595.6 1242.7L1596.1 1244.7L1596.6 1246.6L1597.1 1248.6L1597.5 1250.6L1598.0 1252.5L1598.5 1254.5L1599.0 1256.4L1599.5 1258.4L1599.9 1260.3L1600.4 1262.3L1600.9 1264.2L1601.4 1266.2L1601.9 1268.2L1602.4 1270.1L1602.9 1272.1L1603.3 1274.0L1603.8 1276.0L1604.3 1277.9L1604.8 1279.9L1605.3 1281.8L1605.9 1283.8L1606.4 1285.8L1606.9 1287.7L1607.4 1289.7L1607.9 1291.6L1608.4 1293.6L1609.0 1295.5L1609.5 1297.5L1610.0 1299.4L1610.6 1301.4L1611.1 1303.3L1611.7 1305.2L1612.2 1307.2L1612.8 1309.1L1613.4 1311.1L1614.0 1313.0L1614.6 1314.9L1615.1 1316.9L1615.8 1318.8L1616.4 1320.7L1617.0 1322.6L1617.6 1324.5L1618.3 1326.4L1618.9 1328.3L1619.6 1330.2L1620.3 1332.1L1620.9 1334.0L1621.6 1335.9L1622.4 1337.7L1623.1 1339.6L1623.8 1341.5L1624.6 1343.3L1625.4 1345.1L1626.1 1347.0L1627.0 1348.8L1627.8 1350.6L1628.6 1352.4L1629.5 1354.2L1630.3 1356.0L1631.2 1357.8L1632.1 1359.5L1633.1 1361.3L1634.0 1363.0L1635.0 1364.8L1636.0 1366.5L1637.0 1368.2L1638.0 1369.9L1639.0 1371.5L1640.1 1373.2L1641.2 1374.8L1642.3 1376.5L1643.4 1378.1L1644.5 1379.7L1645.7 1381.3L1646.9 1382.8L1648.1 1384.4L1649.3 1385.9L1650.6 1387.4L1651.8 1388.9L1653.1 1390.4L1654.4 1391.8L1655.8 1393.3L1657.1 1394.7L1658.5 1396.1L1659.9 1397.5L1661.3 1398.8L1662.7 1400.2L1664.2 1401.5L1665.7 1402.8L1667.1 1404.0L1668.7 1405.3L1670.2 1406.5L1671.7 1407.7L1673.3 1408.9L1674.9 1410.1L1676.5 1411.2L1678.1 1412.4L1679.7 1413.5L1681.4 1414.5L1683.0 1415.6L1684.7 1416.6L1686.4 1417.6L1688.1 1418.6L1689.8 1419.5L1691.6 1420.5L1693.3 1421.4L1695.1 1422.2L1696.8 1423.1L1698.6 1423.9L1700.4 1424.8L1702.2 1425.5L1704.1 1426.3L1705.9 1427.0L1707.7 1427.8L1709.6 1428.5L1711.5 1429.1L1713.3 1429.8L1715.2 1430.4L1717.1 1431.0L1719.0 1431.6L1720.9 1432.2L1722.8 1432.7L1724.7 1433.2L1726.7 1433.7L1728.6 1434.2L1730.5 1434.7L1732.5 1435.1L1734.4 1435.6L1736.4 1436.0L1738.4 1436.4L1740.3 1436.8L1742.3 1437.1L1744.3 1437.5L1746.2 1437.8L1748.2 1438.1L1750.2 1438.4L1752.2 1438.7L1754.2 1439.0L1756.2 1439.3L1758.1 1439.5L1760.1 1439.7L1762.1 1440.0L1764.1 1440.2L1766.1 1440.4L1768.1 1440.6L1770.1 1440.8L1772.1 1441.0L1774.1 1441.2L1776.2 1441.3L1778.2 1441.5L1780.2 1441.6L1782.2 1441.8L1784.2 1441.9L1786.2 1442.1L1788.2 1442.2L1790.2 1442.3L1792.2 1442.4L1794.2 1442.6L1796.2 1442.7L1798.2 1442.8L1800.3 1442.9L1802.3 1443.0L1804.3 1443.1L1806.3 1443.2L1808.3 1443.3L1810.3 1443.4L1812.3 1443.5L1814.3 1443.6L1816.3 1443.7L1818.3 1443.7L1820.3 1443.8L1822.4 1443.9L1824.4 1444.0L1826.4 1444.1L1828.4 1444.1L1830.4 1444.2L1832.4 1444.3L1834.4 1444.4L1836.4 1444.4L1838.4 1444.5L1840.4 1444.6L1842.4 1444.6L1844.4 1444.7L1846.4 1444.8L1848.4 1444.8L1850.4 1444.9L1852.4 1445.0L1854.4 1445.0L1856.4 1445.1L1858.4 1445.1L1860.4 1445.2L1862.4 1445.3L1864.4 1445.3L1866.4 1445.4L1868.4 1445.4L1870.4 1445.5L1872.4 1445.6L1874.4 1445.6L1876.4 1445.7L1878.4 1445.7L1880.4 1445.8L1882.4 1445.8L1884.4 1445.9L1886.4 1446.0L1888.4 1446.0L1890.4 1446.1L1892.4 1446.1L1894.4 1446.2L1896.4 1446.3L1898.4 1446.3L1900.4 1446.4L1902.4 1446.4L1904.4 1446.5L1906.4 1446.6L1908.4 1446.6L1910.4 1446.7L1912.4 1446.8L1914.4 1446.8L1916.4 1446.9L1918.4 1447.0L1920.4 1447.0L1922.4 1447.1L1924.4 1447.2L1926.4 1447.3L1928.4 1447.3L1930.4 1447.4L1932.4 1447.5L1934.4 1447.6L1936.4 1447.6L1938.4 1447.7L1940.4 1447.8L1942.4 1447.9L1944.4 1447.9L1946.4 1448.0L1948.4 1448.1L1950.4 1448.2L1952.4 1448.3L1954.4 1448.3L1956.4 1448.4L1958.4 1448.5L1960.4 1448.6L1962.4 1448.7L1964.4 1448.8L1966.4 1448.8L1968.4 1448.9L1970.3 1449.0L1972.3 1449.1L1974.3 1449.2L1976.3 1449.3L1978.3 1449.4L1980.3 1449.4L1982.3 1449.5L1984.3 1449.6L1986.3 1449.7L1988.3 1449.8L1990.3 1449.9L1992.3 1450.0L1994.3 1450.1L1996.3 1450.2L1998.3 1450.2L2000.3 1450.3L2002.3 1450.4L2004.3 1450.5L2006.3 1450.6L2008.3 1450.7L2010.3 1450.8L2012.3 1450.9L2014.3 1451.0L2016.3 1451.1L2018.3 1451.2L2020.3 1451.3L2022.3 1451.4L2024.3 1451.5L2026.3 1451.6L2028.3 1451.7L2030.3 1451.8L2032.3 1451.9L2034.3 1451.9L2036.3 1452.0L2038.3 1452.1L2040.3 1452.2L2042.3 1452.3L2044.3 1452.4L2046.2 1452.5L2048.2 1452.6L2050.2 1452.8L2052.2 1452.9L2054.2 1453.0L2056.2 1453.1L2058.2 1453.2L2060.2 1453.3L2062.2 1453.4L2064.2 1453.5L2066.2 1453.6L2068.2 1453.7L2070.2 1453.8L2072.2 1453.9L2074.2 1454.0L2076.2 1454.1L2078.2 1454.2L2080.2 1454.3L2082.2 1454.4L2084.2 1454.5L2086.2 1454.6L2088.2 1454.7L2090.2 1454.9L2092.2 1455.0L2094.2 1455.1L2096.2 1455.2L2098.2 1455.3L2100.2 1455.4L2102.2 1455.5L2104.2 1455.6L2106.2 1455.7L2108.2 1455.8L2110.1 1455.9L2112.1 1456.1L2114.1 1456.2L2116.1 1456.3L2118.1 1456.4L2120.1 1456.5L2122.1 1456.6L2124.1 1456.7L2126.1 1456.8L2128.1 1456.9L2130.1 1457.1L2132.1 1457.2L2134.1 1457.3L2136.1 1457.4L2138.1 1457.5L2140.1 1457.6L2142.1 1457.7L2144.1 1457.8L2146.1 1458.0L2148.1 1458.1L2150.1 1458.2L2152.1 1458.3L2154.1 1458.4L2156.1 1458.5L2158.1 1458.6L2160.1 1458.8L2162.1 1458.9L2164.1 1459.0L2166.1 1459.1L2168.0 1459.2L2170.0 1459.3L2172.0 1459.4L2174.0 1459.6L2176.0 1459.7L2178.0 1459.8L2180.0 1459.9L2182.0 1460.0L2184.0 1460.1L2186.0 1460.2L2188.0 1460.4L2190.0 1460.5L2192.0 1460.6L2194.0 1460.7" stroke="#0000ff"/>
<path d="M331.0 188.0L333.0 188.0L335.0 188.0L337.0 188.1L339.0 188.1L341.0 188.1L343.0 188.1L345.0 188.1L347.0 188.2L349.0 188.2L351.0 188.2L353.0 188.2L355.0 188.2L357.0 188.3L359.0 188.3L361.0 188.3L363.0 188.3L365.0 188.3L367.0 188.4L369.0 188.4L371.0 188.4L373.0 188.4L375.0 188.4L377.0 188.5L379.0 188.5L381.0 188.5L383.0 188.5L385.0 188.5L387.0 188.5L389.0 188.6L391.0 188.6L393.0 188.6L395.0 188.6L397.0 188.6L399.0 188.7L401.0 188.7L402.9 188.7L404.9 188.7L406.9 188.7L408.9 188.8L410.9 188.8L412.9 188.8L414.9 188.8L416.9 188.8L418.9 188.9L420.9 188.9L422.9 188.9L424.9 188.9L426.9 188.9L428.9 189.0L430.9 189.0L432.9 189.0L434.9 189.0L436.9 189.0L438.9 189.1L440.9 189.1L442.9 189.1L444.9 189.1L446.9 189.1L448.9 189.2L450.9 189.2L452.9 189.2L454.9 189.2L456.9 189.2L458.9 189.3L460.9 189.3L462.9 189.3L464.9 189.3L466.9 189.3L468.9 189.4L470.9 189.4L472.9 189.4L474.9 189.4L476.9 189.4L478.9 189.5L480.9 189.5L482.9 189.5L484.9 189.5L486.9 189.5L488.9 189.6L490.9 189.6L492.9 189.6L494.9 189.6L496.9 189.6L498.9 189.7L500.9 189.7L502.9 189.7L504.9 189.7L506.9 189.7L508.9 189.8L510.9 189.8L512.9 189.8L514.9 189.8L516.9 189.8L518.9 189.9L520.9 189.9L522.9 189.9L524.9 189.9L526.9 189.9L528.9 190.0L530.9 190.0L532.9 190.0L534.9 190.0L536.9 190.0L538.9 190.1L540.9 190.1L542.9 190.1L544.9 190.1L546.9 190.1L548.8 190.2L550.8 190.2L552.8 190.2L554.8 190.2L556.8 190.2L558.8 190.3L560.8 190.3L562.8 190.3L564.8 190.3L566.8 190.4L568.8 190.4L570.8 190.4L572.8 190.4L574.8 190.4L576.8 190.5L578.8 190.5L580.8 190.5L582.8 190.5L584.8 190.6L586.8 190.6L588.8 190.6L590.8 190.6L592.8 190.7L594.8 190.7L596.8 190.7L598.8 190.7L600.8 190.8L602.8 190.8L604.8 190.8L606.8 190.8L608.8 190.9L610.8 190.9L612.8 190.9L614.8 190.9L616.8 191.0L618.8 191.0L620.8 191.0L622.8 191.1L624.8 191.1L626.8 191.1L628.8 191.1L630.8 191.2L632.8 191.2L634.8 191.2L636.8 191.3L638.8 191.3L640.8 191.3L642.8 191.4L644.8 191.4L646.8 191.4L648.8 191.5L650.8 191.5L652.8 191.5L654.8 191.6L656.8 191.6L658.8 191.7L660.8 191.7L662.8 191.7L664.8 191.8L666.8 191.8L668.8 191.9L670.8 191.9L672.8 191.9L674.8 192.0L676.8 192.0L678.8 192.1L680.8 192.1L682.7 192.2L684.7 192.2L686.7 192.2L688.7 192.3L690.7 192.3L692.7 192.4L694.7 192.4L696.7 192.5L698.7 192.5L700.7 192.6L702.7 192.6L704.7 192.7L706.7 192.7L708.7 192.8L710.7 192.9L712.7 192.9L714.7 193.0L716.7 193.0L718.7 193.1L720.7 193.1L722.7 193.2L724.7 193.3L726.7 193.3L728.7 193.4L730.7 193.4L732.7 193.5L734.7 193.6L736.7 193.6L738.7 193.7L740.7 193.8L742.7 193.8L744.7 193.9L746.7 194.0L748.7 194.0L750.7 194.1L752.7 194.2L754.7 194.2L756.7 194.3L758.7 194.4L760.7 194.4L762.7 194.5L764.7 194.6L766.7 194.7L768.6 194.7L770.6 194.8L772.6 194.9L774.6 194.9L776.6 195.0L778.6 195.1L780.6 195.2L782.6 195.2L784.6 195.3L786.6 195.4L788.6 195.4L790.6 195.5L792.6 195.6L794.6 195.7L796.6 195.7L798.6 195.8L800.6 195.9L802.6 195.9L804.6 196.0L806.6 196.1L808.6 196.2L810.6 196.2L812.6 196.3L814.6 196.4L816.6 196.5L818.6 196.5L820.6 196.6L822.6 196.7L824.6 196.7L826.6 196.8L828.6 196.9L830.6 196.9L832.6 197.0L834.6 197.1L836.6 197.1L838.6 197.2L840.6 197.3L842.6 197.3L844.5 197.4L846.5 197.5L848.5 197.5L850.5 197.6L852.5 197.7L854.5 197.7L856.5 197.8L858.5 197.8L860.5 197.9L862.5 198.0L864.5 198.0L866.5 198.1L868.5 198.1L870.5 198.2L872.5 198.2L874.5 198.3L876.5 198.3L878.5 198.4L880.5 198.5L882.5 198.5L884.5 198.6L886.5 198.6L888.5 198.7L890.5 198.7L892.5 198.8L894.5 198.8L896.5 198.8L898.5 198.9L900.5 198.9L902.5 199.0L904.5 199.0L906.5 199.1L908.5 199.1L910.5 199.2L912.5 199.2L914.5 199.2L916.5 199.3L918.5 199.3L920.5 199.4L922.5 199.4L924.5 199.4L926.5 199.5L928.5 199.5L930.5 199.6L932.5 199.6L934.5 199.6L936.5 199.7L938.5 199.7L940.5 199.7L942.5 199.8L944.5 199.8L946.5 199.8L948.5 199.9L950.5 199.9L952.5 199.9L954.5 200.0L956.5 200.0L958.5 200.0L960.5 200.1L962.5 200.1L964.5 200.1L966.5 200.2L968.5 200.2L970.5 200.2L972.5 200.3L974.5 200.3L976.5 200.3L978.5 200.4L980.5 200.4L982.5 200.4L984.5 200.4L986.5 200.5L988.5 200.5L990.5 200.5L992.5 200.6L994.5 200.6L996.5 200.7L998.5 200.7L1000.5 200.7L1002.5 200.8L1004.5 200.8L1006.5 200.9L1008.5 200.9L1010.5 200.9L1012.5 201.0L1014.5 201.0L1016.5 201.1L1018.5 201.2L1020.5 201.2L1022.5 201.3L1024.5 201.3L1026.5 201.4L1028.5 201.5L1030.5 201.6L1032.5 201.6L1034.5 201.7L1036.4 201.8L1038.4 201.9L1040.4 202.0L1042.4 202.1L1044.4 202.2L1046.4 202.3L1048.4 202.5L1050.4 202.6L1052.4 202.7L1054.4 202.9L1056.4 203.0L1058.4 203.2L1060.3 203.3L1062.3 203.5L1064.3 203.7L1066.3 203.8L1068.3 204.0L1070.3 204.2L1072.3 204.4L1074.2 204.6L1076.2 204.9L1078.2 205.1L1080.2 205.3L1082.2 205.6L1084.1 205.8L1086.1 206.1L1088.1 206.3L1090.1 206.6L1092.0 206.9L1094.0 207.2L1096.0 207.5L1097.9 207.8L1099.9 208.1L1101.9 208.4L1103.9 208.7L1105.8 209.1L1107.8 209.4L1109.7 209.8L1111.7 210.1L1113.7 210.5L1115.6 210.9L1117.6 211.3L1119.5 211.6L1121.5 212.0L1123.4 212.4L1125.4 212.8L1127.4 213.3L1129.3 213.7L1131.3 214.1L1133.2 214.5L1135.2 215.0L1137.1 215.4L1139.1 215.8L1141.0 216.3L1142.9 216.8L1144.9 217.2L1146.8 217.7L1148.8 218.1L1150.7 218.6L1152.7 219.1L1154.6 219.6L1156.5 220.1L1158.5 220.5L1160.4 221.0L1162.4 221.5L1164.3 222.0L1166.2 222.5L1168.2 223.0L1170.1 223.5L1172.0 224.0L1174.0 224.5L1175.9 225.0L1177.9 225.5L1179.8 226.0L1181.7 226.5L1183.7 227.0L1185.6 227.5L1187.5 228.0L1189.5 228.5L1191.4 229.1L1193.3 229.6L1195.3 230.1L1197.2 230.6L1199.2 231.1L1201.1 231.6L1203.0 232.1L1205.0 232.6L1206.9 233.1L1208.8 233.6L1210.8 234.1L1212.7 234.6L1214.7 235.1L1216.6 235.6L1218.5 236.1L1220.5 236.6L1222.4 237.2L1224.3 237.7L1226.3 238.2L1228.2 238.7L1230.1 239.2L1232.1 239.8L1234.0 240.3L1235.9 240.8L1237.8 241.4L1239.8 241.9L1241.7 242.5L1243.6 243.0L1245.5 243.6L1247.5 244.1L1249.4 244.7L1251.3 245.3L1253.2 245.9L1255.1 246.4L1257.0 247.0L1258.9 247.6L1260.8 248.3L1262.7 248.9L1264.6 249.5L1266.5 250.1L1268.4 250.8L1270.3 251.4L1272.2 252.1L1274.0 252.7L1275.9 253.4L1277.8 254.1L1279.7 254.8L1281.5 255.5L1283.4 256.2L1285.2 256.9L1287.1 257.7L1288.9 258.4L1290.8 259.2L1292.6 260.0L1294.4 260.8L1296.2 261.6L1298.0 262.4L1299.9 263.2L1301.7 264.0L1303.5 264.9L1305.2 265.7L1307.0 266.6L1308.8 267.5L1310.6 268.4L1312.4 269.3L1314.1 270.3L1315.9 271.2L1317.6 272.2L1319.3 273.1L1321.1 274.1L1322.8 275.1L1324.5 276.1L1326.2 277.1L1327.9 278.1L1329.6 279.2L1331.3 280.2L1333.0 281.3L1334.7 282.4L1336.4 283.5L1338.0 284.5L1339.7 285.7L1341.3 286.8L1343.0 287.9L1344.6 289.0L1346.2 290.2L1347.9 291.4L1349.5 292.5L1351.1 293.7L1352.7 294.9L1354.3 296.1L1355.9 297.3L1357.5 298.5L1359.0 299.7L1360.6 301.0L1362.2 302.2L1363.7 303.5L1365.3 304.7L1366.8 306.0L1368.3 307.3L1369.8 308.6L1371.4 309.8L1372.9 311.2L1374.4 312.5L1375.8 313.8L1377.3 315.1L1378.8 316.5L1380.2 317.8L1381.7 319.2L1383.1 320.6L1384.6 321.9L1386.0 323.3L1387.4 324.7L1388.8 326.2L1390.2 327.6L1391.5 329.0L1392.9 330.5L1394.3 331.9L1395.6 333.4L1396.9 334.8L1398.3 336.3L1399.6 337.8L1400.9 339.3L1402.2 340.8L1403.5 342.3L1404.8 343.9L1406.0 345.4L1407.3 346.9L1408.5 348.5L1409.8 350.0L1411.0 351.6L1412.3 353.2L1413.5 354.7L1414.7 356.3L1415.9 357.9L1417.1 359.5L1418.3 361.1L1419.5 362.7L1420.6 364.3L1421.8 365.9L1422.9 367.6L1424.1 369.2L1425.2 370.8L1426.4 372.5L1427.5 374.1L1428.6 375.8L1429.7 377.4L1430.8 379.1L1431.9 380.8L1433.0 382.4L1434.1 384.1L1435.1 385.8L1436.2 387.5L1437.2 389.2L1438.3 390.9L1439.3 392.6L1440.4 394.3L1441.4 396.0L1442.4 397.8L1443.4 399.5L1444.4 401.2L1445.4 402.9L1446.4 404.7L1447.4 406.4L1448.4 408.1L1449.4 409.9L1450.4 411.6L1451.3 413.4L1452.3 415.1L1453.2 416.9L1454.2 418.7L1455.1 420.4L1456.1 422.2L1457.0 424.0L1457.9 425.7L1458.8 427.5L1459.8 429.3L1460.7 431.1L1461.6 432.9L1462.4 434.7L1463.3 436.5L1464.2 438.3L1465.1 440.1L1466.0 441.9L1466.8 443.7L1467.7 445.5L1468.5 447.3L1469.4 449.1L1470.2 450.9L1471.0 452.8L1471.8 454.6L1472.7 456.4L1473.5 458.2L1474.3 460.1L1475.1 461.9L1475.9 463.7L1476.6 465.6L1477.4 467.4L1478.2 469.3L1479.0 471.1L1479.7 473.0L1480.5 474.8L1481.2 476.7L1482.0 478.5L1482.7 480.4L1483.5 482.2L1484.2 484.1L1484.9 486.0L1485.6 487.8L1486.4 489.7L1487.1 491.6L1487.8 493.4L1488.5 495.3L1489.2 497.2L1489.8 499.1L1490.5 501.0L1491.2 502.8L1491.9 504.7L1492.6 506.6L1493.2 508.5L1493.9 510.4L1494.5 512.3L1495.2 514.2L1495.8 516.0L1496.5 517.9L1497.1 519.8L1497.7 521.7L1498.4 523.6L1499.0 525.5L1499.6 527.4L1500.2 529.3L1500.8 531.2L1501.4 533.2L1502.0 535.1L1502.6 537.0L1503.2 538.9L1503.8 540.8L1504.3 542.7L1504.9 544.6L1505.5 546.5L1506.0 548.5L1506.6 550.4L1507.1 552.3L1507.7 554.2L1508.2 556.1L1508.8 558.1L1509.3 560.0L1509.8 561.9L1510.3 563.9L1510.9 565.8L1511.4 567.7L1511.9 569.7L1512.4 571.6L1512.9 573.5L1513.4 575.5L1513.8 577.4L1514.3 579.3L1514.8 581.3L1515.3 583.2L1515.7 585.2L1516.2 587.1L1516.7 589.0L1517.1 591.0L1517.6 592.9L1518.0 594.9L1518.5 596.8L1518.9 598.8L1519.4 600.7L1519.8 602.7L1520.2 604.6L1520.6 606.6L1521.1 608.5L1521.5 610.5L1521.9 612.4L1522.3 614.4L1522.7 616.4L1523.1 618.3L1523.5 620.3L1523.9 622.2L1524.3 624.2L1524.7 626.1L1525.1 628.1L1525.5 630.1L1525.9 632.0L1526.3 634.0L1526.7 635.9L1527.1 637.9L1527.5 639.9L1527.9 641.8L1528.2 643.8L1528.6 645.8L1529.0 647.7L1529.4 649.7L1529.8 651.6L1530.2 653.6L1530.5 655.6L1530.9 657.5L1531.3 659.5L1531.7 661.5L1532.1 663.4L1532.5 665.4L1532.8 667.3L1533.2 669.3L1533.6 671.3L1534.0 673.2L1534.3 675.2L1534.7 677.2L1535.1 679.1L1535.5 681.1L1535.8 683.0L1536.2 685.0L1536.6 687.0L1536.9 688.9L1537.3 690.9L1537.7 692.9L1538.0 694.8L1538.4 696.8L1538.8 698.8L1539.1 700.7L1539.5 702.7L1539.8 704.7L1540.2 706.6L1540.5 708.6L1540.9 710.6L1541.2 712.5L1541.6 714.5L1541.9 716.5L1542.3 718.4L1542.6 720.4L1542.9 722.4L1543.3 724.3L1543.6 726.3L1543.9 728.3L1544.3 730.3L1544.6 732.2L1544.9 734.2L1545.3 736.2L1545.6 738.1L1545.9 740.1L1546.2 742.1L1546.6 744.1L1546.9 746.0L1547.2 748.0L1547.5 750.0L1547.9 751.9L1548.2 753.9L1548.5 755.9L1548.8 757.9L1549.1 759.8L1549.5 761.8L1549.8 763.8L1550.1 765.8L1550.4 767.7L1550.7 769.7L1551.0 771.7L1551.3 773.7L1551.6 775.6L1552.0 777.6L1552.3 779.6L1552.6 781.6L1552.9 783.5L1553.2 785.5L1553.5 787.5L1553.8 789.5L1554.1 791.4L1554.4 793.4L1554.7 795.4L1555.0 797.4L1555.4 799.3L1555.7 801.3L1556.0 803.3L1556.3 805.3L1556.6 807.2L1556.9 809.2L1557.2 811.2L1557.5 813.2L1557.8 815.1L1558.1 817.1L1558.4 819.1L1558.7 821.1L1559.0 823.0L1559.3 825.0L1559.6 827.0L1559.9 829.0L1560.2 830.9L1560.5 832.9L1560.8 834.9L1561.1 836.9L1561.4 838.8L1561.7 840.8L1562.0 842.8L1562.3 844.8L1562.6 846.7L1562.9 848.7L1563.2 850.7L1563.5 852.7L1563.8 854.6L1564.1 856.6L1564.4 858.6L1564.7 860.6L1565.0 862.6L1565.3 864.5L1565.6 866.5L1565.9 868.5L1566.1 870.5L1566.4 872.4L1566.7 874.4L1567.0 876.4L1567.3 878.4L1567.6 880.4L1567.9 882.3L1568.2 884.3L1568.5 886.3L1568.8 888.3L1569.1 890.2L1569.4 892.2L1569.6 894.2L1569.9 896.2L1570.2 898.1L1570.5 900.1L1570.8 902.1L1571.1 904.1L1571.4 906.1L1571.7 908.0L1572.0 910.0L1572.3 912.0L1572.6 914.0L1572.9 915.9L1573.2 917.9L1573.5 919.9L1573.8 921.9L1574.1 923.8L1574.4 925.8L1574.7 927.8L1574.9 929.8L1575.2 931.8L1575.5 933.7L1575.8 935.7L1576.1 937.7L1576.4 939.7L1576.7 941.6L1577.0 943.6L1577.3 945.6L1577.6 947.6L1577.9 949.5L1578.2 951.5L1578.4 953.5L1578.7 955.5L1579.0 957.5L1579.3 959.4L1579.6 961.4L1579.9 963.4L1580.2 965.4L1580.5 967.3L1580.7 969.3L1581.0 971.3L1581.3 973.3L1581.6 975.3L1581.9 977.2L1582.2 979.2L1582.4 981.2L1582.7 983.2L1583.0 985.2L1583.3 987.1L1583.6 989.1L1583.9 991.1L1584.1 993.1L1584.4 995.0L1584.7 997.0L1585.0 999.0L1585.3 1001.0L1585.5 1003.0L1585.8 1004.9L1586.1 1006.9L1586.4 1008.9L1586.7 1010.9L1586.9 1012.9L1587.2 1014.8L1587.5 1016.8L1587.8 1018.8L1588.1 1020.8L1588.4 1022.7L1588.6 1024.7L1588.9 1026.7L1589.2 1028.7L1589.5 1030.7L1589.8 1032.6L1590.1 1034.6L1590.3 1036.6L1590.6 1038.6L1590.9 1040.5L1591.2 1042.5L1591.5 1044.5L1591.8 1046.5L1592.1 1048.5L1592.4 1050.4L1592.6 1052.4L1592.9 1054.4L1593.2 1056.4L1593.5 1058.3L1593.8 1060.3L1594.1 1062.3L1594.4 1064.3L1594.7 1066.2L1595.0 1068.2L1595.3 1070.2L1595.6 1072.2L1595.9 1074.2L1596.2 1076.1L1596.5 1078.1L1596.7 1080.1L1597.0 1082.1L1597.3 1084.0L1597.6 1086.0L1597.9 1088.0L1598.2 1090.0L1598.5 1091.9L1598.8 1093.9L1599.1 1095.9L1599.4 1097.9L1599.7 1099.8L1600.0 1101.8L1600.4 1103.8L1600.7 1105.8L1601.0 1107.7L1601.3 1109.7L1601.6 1111.7L1601.9 1113.7L1602.2 1115.6L1602.5 1117.6L1602.8 1119.6L1603.1 1121.6L1603.4 1123.5L1603.7 1125.5L1604.1 1127.5L1604.4 1129.5L1604.7 1131.4L1605.0 1133.4L1605.3 1135.4L1605.7 1137.4L1606.0 1139.3L1606.3 1141.3L1606.6 1143.3L1607.0 1145.3L1607.3 1147.2L1607.6 1149.2L1608.0 1151.2L1608.3 1153.2L1608.6 1155.1L1609.0 1157.1L1609.3 1159.1L1609.7 1161.1L1610.0 1163.0L1610.4 1165.0L1610.7 1167.0L1611.1 1168.9L1611.4 1170.9L1611.8 1172.9L1612.2 1174.9L1612.5 1176.8L1612.9 1178.8L1613.3 1180.8L1613.7 1182.7L1614.0 1184.7L1614.4 1186.7L1614.8 1188.6L1615.2 1190.6L1615.6 1192.6L1616.0 1194.6L1616.4 1196.5L1616.8 1198.5L1617.2 1200.5L1617.6 1202.4L1618.0 1204.4L1618.4 1206.4L1618.9 1208.3L1619.3 1210.3L1619.7 1212.3L1620.2 1214.2L1620.6 1216.2L1621.0 1218.1L1621.5 1220.1L1622.0 1222.1L1622.4 1224.0L1622.9 1226.0L1623.4 1227.9L1623.9 1229.9L1624.3 1231.8L1624.8 1233.8L1625.3 1235.7L1625.9 1237.7L1626.4 1239.6L1626.9 1241.6L1627.4 1243.5L1628.0 1245.5L1628.5 1247.4L1629.1 1249.3L1629.7 1251.3L1630.2 1253.2L1630.8 1255.1L1631.4 1257.1L1632.0 1259.0L1632.6 1260.9L1633.3 1262.8L1633.9 1264.7L1634.5 1266.6L1635.2 1268.5L1635.9 1270.4L1636.5 1272.3L1637.2 1274.2L1637.9 1276.1L1638.6 1278.0L1639.4 1279.8L1640.1 1281.7L1640.9 1283.6L1641.6 1285.4L1642.4 1287.3L1643.2 1289.1L1644.0 1290.9L1644.9 1292.7L1645.7 1294.6L1646.6 1296.4L1647.4 1298.2L1648.3 1299.9L1649.2 1301.7L1650.2 1303.5L1651.1 1305.2L1652.1 1306.9L1653.1 1308.7L1654.1 1310.4L1655.1 1312.0L1656.1 1313.7L1657.2 1315.4L1658.3 1317.0L1659.4 1318.7L1660.5 1320.3L1661.6 1321.9L1662.8 1323.4L1664.0 1325.0L1665.2 1326.5L1666.4 1328.0L1667.7 1329.5L1669.0 1331.0L1670.3 1332.5L1671.6 1333.9L1672.9 1335.3L1674.3 1336.7L1675.7 1338.1L1677.1 1339.4L1678.5 1340.7L1679.9 1342.0L1681.4 1343.3L1682.9 1344.6L1684.4 1345.8L1685.9 1347.0L1687.5 1348.1L1689.0 1349.3L1690.6 1350.4L1692.2 1351.5L1693.8 1352.6L1695.5 1353.6L1697.1 1354.6L1698.8 1355.6L1700.5 1356.6L1702.2 1357.6L1703.9 1358.5L1705.6 1359.4L1707.4 1360.2L1709.2 1361.1L1710.9 1361.9L1712.7 1362.7L1714.5 1363.5L1716.3 1364.2L1718.2 1364.9L1720.0 1365.6L1721.9 1366.3L1723.7 1367.0L1725.6 1367.6L1727.5 1368.2L1729.4 1368.8L1731.3 1369.4L1733.2 1369.9L1735.1 1370.5L1737.0 1371.0L1738.9 1371.5L1740.9 1372.0L1742.8 1372.4L1744.7 1372.9L1746.7 1373.3L1748.6 1373.7L1750.6 1374.1L1752.6 1374.5L1754.5 1374.8L1756.5 1375.2L1758.5 1375.5L1760.5 1375.8L1762.5 1376.2L1764.5 1376.5L1766.5 1376.7L1768.4 1377.0L1770.4 1377.3L1772.4 1377.6L1774.4 1377.8L1776.4 1378.0L1778.4 1378.3L1780.5 1378.5L1782.5 1378.7L1784.5 1378.9L1786.5 1379.1L1788.5 1379.3L1790.5 1379.5L1792.5 1379.7L1794.5 1379.9L1796.5 1380.0L1798.5 1380.2L1800.5 1380.3L1802.6 1380.5L1804.6 1380.6L1806.6 1380.8L1808.6 1380.9L1810.6 1381.1L1812.6 1381.2L1814.6 1381.3L1816.7 1381.4L1818.7 1381.6L1820.7 1381.7L1822.7 1381.8L1824.7 1381.9L1826.7 1382.0L1828.7 1382.1L1830.7 1382.3L1832.8 1382.4L1834.8 1382.5L1836.8 1382.6L1838.8 1382.7L1840.8 1382.8L1842.8 1382.9L1844.8 1383.0L1846.8 1383.1L1848.8 1383.3L1850.8 1383.4L1852.8 1383.5L1854.9 1383.6L1856.9 1383.7L1858.9 1383.8L1860.9 1383.9L1862.9 1384.0L1864.9 1384.1L1866.9 1384.3L1868.9 1384.4L1870.9 1384.5L1872.9 1384.6L1874.9 1384.7L1876.9 1384.8L1878.9 1384.9L1880.9 1385.1L1882.9 1385.2L1884.9 1385.3L1886.9 1385.4L1888.9 1385.5L1890.9 1385.7L1892.9 1385.8L1894.9 1385.9L1896.9 1386.0L1898.9 1386.1L1900.9 1386.3L1902.9 1386.4L1904.9 1386.5L1906.8 1386.6L1908.8 1386.8L1910.8 1386.9L1912.8 1387.0L1914.8 1387.2L1916.8 1387.3L1918.8 1387.4L1920.8 1387.6L1922.8 1387.7L1924.8 1387.8L1926.8 1388.0L1928.8 1388.1L1930.8 1388.2L1932.8 1388.4L1934.8 1388.5L1936.8 1388.6L1938.8 1388.8L1940.8 1388.9L1942.7 1389.0L1944.7 1389.2L1946.7 1389.3L1948.7 1389.4L1950.7 1389.6L1952.7 1389.7L1954.7 1389.8L1956.7 1390.0L1958.7 1390.1L1960.7 1390.3L1962.7 1390.4L1964.7 1390.5L1966.7 1390.7L1968.7 1390.8L1970.7 1390.9L1972.6 1391.1L1974.6 1391.2L1976.6 1391.3L1978.6 1391.5L1980.6 1391.6L1982.6 1391.7L1984.6 1391.9L1986.6 1392.0L1988.6 1392.1L1990.6 1392.3L1992.6 1392.4L1994.6 1392.5L1996.6 1392.7L1998.6 1392.8L2000.6 1392.9L2002.6 1393.1L2004.5 1393.2L2006.5 1393.4L2008.5 1393.5L2010.5 1393.6L2012.5 1393.8L2014.5 1393.9L2016.5 1394.0L2018.5 1394.2L2020.5 1394.3L2022.5 1394.4L2024.5 1394.6L2026.5 1394.7L2028.5 1394.8L2030.5 1395.0L2032.5 1395.1L2034.4 1395.3L2036.4 1395.4L2038.4 1395.5L2040.4 1395.7L2042.4 1395.8L2044.4 1395.9L2046.4 1396.1L2048.4 1396.2L2050.4 1396.4L2052.4 1396.5L2054.4 1396.6L2056.4 1396.8L2058.4 1396.9L2060.4 1397.0L2062.4 1397.2L2064.4 1397.3L2066.3 1397.4L2068.3 1397.6L2070.3 1397.7L2072.3 1397.8L2074.3 1398.0L2076.3 1398.1L2078.3 1398.3L2080.3 1398.4L2082.3 1398.5L2084.3 1398.7L2086.3 1398.8L2088.3 1398.9L2090.3 1399.1L2092.3 1399.2L2094.3 1399.3L2096.3 1399.5L2098.3 1399.6L2100.3 1399.7L2102.2 1399.9L2104.2 1400.0L2106.2 1400.1L2108.2 1400.2L2110.2 1400.4L2112.2 1400.5L2114.2 1400.6L2116.2 1400.8L2118.2 1400.9L2120.2 1401.0L2122.2 1401.2L2124.2 1401.3L2126.2 1401.4L2128.2 1401.5L2130.2 1401.7L2132.2 1401.8L2134.2 1401.9L2136.2 1402.1L2138.1 1402.2L2140.1 1402.3L2142.1 1402.4L2144.1 1402.6L2146.1 1402.7L2148.1 1402.8L2150.1 1402.9L2152.1 1403.1L2154.1 1403.2L2156.1 1403.3L2158.1 1403.4L2160.1 1403.6L2162.1 1403.7L2164.1 1403.8L2166.1 1403.9L2168.1 1404.1L2170.1 1404.2L2172.1 1404.3L2174.1 1404.4L2176.0 1404.6L2178.0 1404.7L2180.0 1404.8L2182.0 1405.0L2184.0 1405.1L2186.0 1405.2L2188.0 1405.3L2190.0 1405.5L2192.0 1405.6L2194.0 1405.7" stroke="#008000"/>
<path d="M331.0 187.0L333.0 187.1L335.0 187.2L337.0 187.3L339.0 187.4L341.0 187.5L343.0 187.6L345.0 187.7L347.0 187.8L349.0 187.9L351.0 188.1L353.0 188.2L355.0 188.3L357.0 188.4L359.0 188.5L360.9 188.6L362.9 188.7L364.9 188.8L366.9 188.9L368.9 189.0L370.9 189.1L372.9 189.2L374.9 189.3L376.9 189.4L378.9 189.5L380.9 189.6L382.9 189.7L384.9 189.8L386.9 189.9L388.9 190.0L390.9 190.1L392.9 190.2L394.9 190.3L396.9 190.4L398.9 190.5L400.9 190.6L402.9 190.7L404.9 190.8L406.9 190.9L408.9 190.9L410.9 191.0L412.9 191.1L414.9 191.2L416.9 191.3L418.9 191.4L420.9 191.5L422.9 191.6L424.9 191.7L426.9 191.7L428.8 191.8L430.8 191.9L432.8 192.0L434.8 192.1L436.8 192.2L438.8 192.2L440.8 192.3L442.8 192.4L444.8 192.5L446.8 192.6L448.8 192.6L450.8 192.7L452.8 192.8L454.8 192.9L456.8 192.9L458.8 193.0L460.8 193.1L462.8 193.2L464.8 193.2L466.8 193.3L468.8 193.4L470.8 193.4L472.8 193.5L474.8 193.6L476.8 193.6L478.8 193.7L480.8 193.8L482.8 193.8L484.8 193.9L486.8 193.9L488.8 194.0L490.8 194.1L492.8 194.1L494.8 194.2L496.8 194.2L498.8 194.3L500.8 194.3L502.8 194.4L504.8 194.4L506.8 194.5L508.8 194.5L510.8 194.6L512.8 194.6L514.8 194.7L516.8 194.7L518.8 194.8L520.8 194.8L522.8 194.8L524.8 194.9L526.8 194.9L528.8 195.0L530.8 195.0L532.8 195.0L534.8 195.1L536.8 195.1L538.8 195.1L540.8 195.2L542.8 195.2L544.8 195.2L546.8 195.3L548.8 195.3L550.8 195.3L552.8 195.3L554.8 195.4L556.8 195.4L558.8 195.4L560.8 195.5L562.8 195.5L564.8 195.5L566.8 195.5L568.8 195.6L570.8 195.6L572.8 195.6L574.7 195.7L576.7 195.7L578.7 195.7L580.7 195.7L582.7 195.8L584.7 195.8L586.7 195.8L588.7 195.9L590.7 195.9L592.7 196.0L594.7 196.0L596.7 196.0L598.7 196.1L600.7 196.1L602.7 196.2L604.7 196.2L606.7 196.2L608.7 196.3L610.7 196.3L612.7 196.4L614.7 196.5L616.7 196.5L618.7 196.6L620.7 196.6L622.7 196.7L624.7 196.7L626.7 196.8L628.7 196.9L630.7 196.9L632.7 197.0L634.7 197.1L636.7 197.1L638.7 197.2L640.7 197.3L642.7 197.4L644.7 197.4L646.7 197.5L648.7 197.6L650.7 197.6L652.7 197.7L654.7 197.8L656.7 197.9L658.7 197.9L660.7 198.0L662.7 198.1L664.7 198.2L666.7 198.2L668.7 198.3L670.7 198.4L672.7 198.5L674.7 198.5L676.7 198.6L678.7 198.7L680.7 198.8L682.7 198.8L684.7 198.9L686.7 199.0L688.7 199.0L690.7 199.1L692.7 199.2L694.7 199.2L696.7 199.3L698.6 199.4L700.6 199.4L702.6 199.5L704.6 199.6L706.6 199.6L708.6 199.7L710.6 199.7L712.6 199.8L714.6 199.8L716.6 199.9L718.6 199.9L720.6 200.0L722.6 200.0L724.6 200.1L726.6 200.1L728.6 200.1L730.6 200.2L732.6 200.2L734.6 200.3L736.6 200.3L738.6 200.3L740.6 200.3L742.6 200.4L744.6 200.4L746.6 200.4L748.6 200.5L750.6 200.5L752.6 200.5L754.6 200.5L756.6 200.6L758.6 200.6L760.6 200.6L762.6 200.6L764.6 200.7L766.6 200.7L768.6 200.7L770.6 200.8L772.6 200.8L774.6 200.8L776.6 200.8L778.6 200.9L780.6 200.9L782.6 200.9L784.6 201.0L786.6 201.0L788.6 201.0L790.6 201.1L792.6 201.1L794.6 201.2L796.6 201.2L798.6 201.2L800.6 201.3L802.6 201.3L804.6 201.4L806.6 201.4L808.6 201.5L810.6 201.6L812.6 201.6L814.6 201.7L816.6 201.7L818.6 201.8L820.6 201.9L822.6 202.0L824.6 202.0L826.6 202.1L828.6 202.2L830.6 202.3L832.6 202.4L834.6 202.4L836.6 202.5L838.6 202.6L840.6 202.7L842.6 202.8L844.6 202.9L846.5 203.0L848.5 203.0L850.5 203.1L852.5 203.2L854.5 203.3L856.5 203.4L858.5 203.5L860.5 203.6L862.5 203.7L864.5 203.8L866.5 203.9L868.5 204.0L870.5 204.1L872.5 204.1L874.5 204.2L876.5 204.3L878.5 204.4L880.5 204.5L882.5 204.6L884.5 204.7L886.5 204.7L888.5 204.8L890.5 204.9L892.5 205.0L894.5 205.1L896.5 205.1L898.5 205.2L900.5 205.3L902.5 205.3L904.5 205.4L906.5 205.5L908.5 205.5L910.5 205.6L912.5 205.6L914.5 205.7L916.5 205.8L918.5 205.8L920.5 205.9L922.5 205.9L924.5 206.0L926.5 206.0L928.5 206.1L930.5 206.1L932.5 206.2L934.5 206.2L936.5 206.3L938.5 206.3L940.5 206.4L942.5 206.4L944.5 206.5L946.5 206.6L948.5 206.6L950.4 206.7L952.4 206.7L954.4 206.8L956.4 206.9L958.4 206.9L960.4 207.0L962.4 207.1L964.4 207.1L966.4 207.2L968.4 207.3L970.4 207.4L972.4 207.5L974.4 207.5L976.4 207.6L978.4 207.7L980.4 207.8L982.4 207.9L984.4 208.1L986.4 208.2L988.4 208.3L990.4 208.4L992.4 208.5L994.4 208.7L996.4 208.8L998.4 209.0L1000.4 209.1L1002.3 209.3L1004.3 209.5L1006.3 209.7L1008.3 209.8L1010.3 210.0L1012.3 210.2L1014.3 210.4L1016.3 210.6L1018.2 210.8L1020.2 211.1L1022.2 211.3L1024.2 211.5L1026.2 211.7L1028.2 211.9L1030.2 212.2L1032.2 212.4L1034.1 212.6L1036.1 212.8L1038.1 213.1L1040.1 213.3L1042.1 213.5L1044.1 213.8L1046.1 214.0L1048.1 214.2L1050.0 214.4L1052.0 214.7L1054.0 214.9L1056.0 215.1L1058.0 215.3L1060.0 215.5L1062.0 215.7L1064.0 215.9L1066.0 216.1L1068.0 216.3L1070.0 216.5L1072.0 216.7L1074.0 216.9L1076.0 217.1L1078.0 217.3L1080.0 217.5L1082.0 217.7L1084.0 217.9L1086.0 218.1L1088.0 218.3L1090.0 218.6L1092.0 218.8L1093.9 219.1L1095.9 219.4L1097.9 219.7L1099.9 220.0L1101.8 220.3L1103.8 220.7L1105.8 221.1L1107.7 221.5L1109.7 221.9L1111.6 222.4L1113.5 222.9L1115.5 223.4L1117.4 224.0L1119.3 224.6L1121.2 225.2L1123.0 225.8L1124.9 226.5L1126.7 227.2L1128.6 228.0L1130.4 228.8L1132.2 229.6L1134.0 230.5L1135.8 231.4L1137.5 232.3L1139.2 233.3L1141.0 234.3L1142.7 235.3L1144.4 236.4L1146.0 237.5L1147.7 238.6L1149.4 239.7L1151.0 240.9L1152.6 242.0L1154.2 243.2L1155.8 244.4L1157.4 245.7L1159.0 246.9L1160.5 248.2L1162.0 249.5L1163.5 250.8L1165.0 252.2L1166.5 253.5L1168.0 254.9L1169.4 256.3L1170.8 257.7L1172.3 259.1L1173.7 260.5L1175.0 262.0L1176.4 263.4L1177.7 264.9L1179.0 266.4L1180.3 267.9L1181.6 269.5L1182.9 271.0L1184.1 272.6L1185.3 274.2L1186.5 275.8L1187.7 277.4L1188.9 279.0L1190.0 280.6L1191.1 282.3L1192.2 284.0L1193.3 285.7L1194.3 287.4L1195.4 289.1L1196.4 290.8L1197.4 292.5L1198.5 294.2L1199.5 295.9L1200.5 297.7L1201.5 299.4L1202.5 301.2L1203.5 302.9L1204.5 304.6L1205.4 306.4L1206.4 308.1L1207.4 309.9L1208.3 311.6L1209.2 313.4L1210.1 315.2L1211.0 317.0L1211.9 318.7L1212.8 320.5L1213.6 322.3L1214.4 324.2L1215.2 326.0L1215.9 327.8L1216.6 329.7L1217.3 331.5L1218.0 333.4L1218.7 335.3L1219.4 337.2L1220.0 339.1L1220.7 340.9L1221.3 342.8L1222.0 344.7L1222.6 346.6L1223.2 348.5L1223.9 350.4L1224.5 352.3L1225.1 354.2L1225.8 356.1L1226.4 358.0L1227.1 359.9L1227.7 361.8L1228.4 363.7L1229.0 365.5L1229.7 367.4L1230.3 369.3L1230.9 371.2L1231.5 373.1L1232.2 375.0L1232.8 376.9L1233.3 378.9L1233.9 380.8L1234.5 382.7L1235.1 384.6L1235.6 386.5L1236.2 388.4L1236.7 390.4L1237.2 392.3L1237.8 394.2L1238.3 396.2L1238.8 398.1L1239.3 400.0L1239.8 401.9L1240.3 403.9L1240.8 405.8L1241.3 407.8L1241.8 409.7L1242.3 411.6L1242.8 413.6L1243.3 415.5L1243.8 417.4L1244.3 419.4L1244.7 421.3L1245.2 423.3L1245.7 425.2L1246.2 427.2L1246.6 429.1L1247.1 431.0L1247.5 433.0L1248.0 434.9L1248.4 436.9L1248.9 438.8L1249.3 440.8L1249.8 442.7L1250.2 444.7L1250.7 446.6L1251.1 448.6L1251.5 450.5L1252.0 452.5L1252.4 454.5L1252.8 456.4L1253.3 458.4L1253.7 460.3L1254.1 462.3L1254.5 464.2L1254.9 466.2L1255.3 468.1L1255.7 470.1L1256.1 472.1L1256.5 474.0L1256.9 476.0L1257.3 477.9L1257.7 479.9L1258.1 481.9L1258.5 483.8L1258.8 485.8L1259.2 487.8L1259.6 489.7L1259.9 491.7L1260.3 493.7L1260.6 495.6L1261.0 497.6L1261.3 499.6L1261.7 501.5L1262.0 503.5L1262.4 505.5L1262.7 507.4L1263.0 509.4L1263.3 511.4L1263.6 513.4L1264.0 515.3L1264.3 517.3L1264.6 519.3L1264.9 521.3L1265.2 523.2L1265.5 525.2L1265.8 527.2L1266.2 529.2L1266.5 531.1L1266.8 533.1L1267.1 535.1L1267.4 537.1L1267.7 539.0L1268.1 541.0L1268.4 543.0L1268.7 544.9L1269.0 546.9L1269.4 548.9L1269.7 550.9L1270.0 552.8L1270.4 554.8L1270.7 556.8L1271.1 558.7L1271.4 560.7L1271.8 562.7L1272.1 564.6L1272.5 566.6L1272.9 568.6L1273.2 570.5L1273.6 572.5L1273.9 574.5L1274.3 576.5L1274.6 578.4L1275.0 580.4L1275.3 582.4L1275.7 584.3L1276.0 586.3L1276.4 588.3L1276.7 590.2L1277.0 592.2L1277.3 594.2L1277.7 596.2L1278.0 598.1L1278.3 600.1L1278.6 602.1L1278.9 604.1L1279.2 606.0L1279.4 608.0L1279.7 610.0L1280.0 612.0L1280.3 613.9L1280.5 615.9L1280.8 617.9L1281.0 619.9L1281.3 621.9L1281.5 623.9L1281.8 625.8L1282.0 627.8L1282.2 629.8L1282.5 631.8L1282.7 633.8L1282.9 635.8L1283.2 637.8L1283.4 639.8L1283.6 641.7L1283.8 643.7L1284.1 645.7L1284.3 647.7L1284.5 649.7L1284.7 651.7L1285.0 653.7L1285.2 655.6L1285.4 657.6L1285.7 659.6L1285.9 661.6L1286.1 663.6L1286.3 665.6L1286.6 667.6L1286.8 669.6L1287.0 671.5L1287.3 673.5L1287.5 675.5L1287.7 677.5L1288.0 679.5L1288.2 681.5L1288.4 683.5L1288.7 685.4L1288.9 687.4L1289.1 689.4L1289.4 691.4L1289.6 693.4L1289.9 695.4L1290.1 697.3L1290.3 699.3L1290.6 701.3L1290.8 703.3L1291.1 705.3L1291.3 707.3L1291.6 709.3L1291.8 711.2L1292.1 713.2L1292.3 715.2L1292.6 717.2L1292.8 719.2L1293.0 721.2L1293.3 723.1L1293.5 725.1L1293.8 727.1L1294.0 729.1L1294.3 731.1L1294.5 733.1L1294.7 735.1L1295.0 737.0L1295.2 739.0L1295.4 741.0L1295.7 743.0L1295.9 745.0L1296.1 747.0L1296.3 749.0L1296.5 750.9L1296.8 752.9L1297.0 754.9L1297.2 756.9L1297.4 758.9L1297.6 760.9L1297.8 762.9L1298.0 764.9L1298.2 766.8L1298.4 768.8L1298.6 770.8L1298.8 772.8L1299.0 774.8L1299.2 776.8L1299.4 778.8L1299.6 780.8L1299.8 782.8L1300.0 784.8L1300.2 786.7L1300.4 788.7L1300.5 790.7L1300.7 792.7L1300.9 794.7L1301.1 796.7L1301.3 798.7L1301.5 800.7L1301.7 802.7L1301.9 804.7L1302.1 806.6L1302.3 808.6L1302.5 810.6L1302.7 812.6L1303.0 814.6L1303.2 816.6L1303.4 818.6L1303.6 820.6L1303.8 822.6L1304.0 824.5L1304.2 826.5L1304.4 828.5L1304.6 830.5L1304.8 832.5L1305.0 834.5L1305.2 836.5L1305.4 838.5L1305.5 840.5L1305.7 842.5L1305.9 844.4L1306.1 846.4L1306.3 848.4L1306.5 850.4L1306.6 852.4L1306.8 854.4L1307.0 856.4L1307.1 858.4L1307.3 860.4L1307.5 862.4L1307.6 864.4L1307.8 866.4L1307.9 868.3L1308.1 870.3L1308.2 872.3L1308.4 874.3L1308.5 876.3L1308.7 878.3L1308.9 880.3L1309.0 882.3L1309.2 884.3L1309.3 886.3L1309.5 888.3L1309.7 890.3L1309.8 892.3L1310.0 894.3L1310.2 896.2L1310.3 898.2L1310.5 900.2L1310.7 902.2L1310.9 904.2L1311.1 906.2L1311.3 908.2L1311.5 910.2L1311.7 912.2L1311.9 914.2L1312.1 916.2L1312.3 918.1L1312.5 920.1L1312.7 922.1L1312.9 924.1L1313.1 926.1L1313.3 928.1L1313.5 930.1L1313.7 932.1L1313.9 934.1L1314.1 936.0L1314.3 938.0L1314.5 940.0L1314.6 942.0L1314.8 944.0L1315.0 946.0L1315.2 948.0L1315.4 950.0L1315.6 952.0L1315.7 954.0L1315.9 956.0L1316.1 957.9L1316.3 959.9L1316.4 961.9L1316.6 963.9L1316.7 965.9L1316.9 967.9L1317.1 969.9L1317.2 971.9L1317.4 973.9L1317.5 975.9L1317.7 977.9L1317.8 979.9L1318.0 981.9L1318.1 983.9L1318.3 985.8L1318.5 987.8L1318.6 989.8L1318.8 991.8L1319.0 993.8L1319.1 995.8L1319.3 997.8L1319.5 999.8L1319.6 1001.8L1319.8 1003.8L1320.0 1005.8L1320.2 1007.8L1320.4 1009.7L1320.6 1011.7L1320.8 1013.7L1321.0 1015.7L1321.1 1017.7L1321.3 1019.7L1321.5 1021.7L1321.7 1023.7L1321.9 1025.7L1322.2 1027.7L1322.4 1029.6L1322.6 1031.6L1322.8 1033.6L1323.0 1035.6L1323.2 1037.6L1323.4 1039.6L1323.6 1041.6L1323.8 1043.6L1324.0 1045.6L1324.2 1047.5L1324.4 1049.5L1324.6 1051.5L1324.8 1053.5L1325.0 1055.5L1325.2 1057.5L1325.4 1059.5L1325.6 1061.5L1325.8 1063.5L1326.0 1065.4L1326.2 1067.4L1326.4 1069.4L1326.6 1071.4L1326.8 1073.4L1327.0 1075.4L1327.2 1077.4L1327.4 1079.4L1327.6 1081.4L1327.8 1083.3L1328.0 1085.3L1328.2 1087.3L1328.4 1089.3L1328.6 1091.3L1328.8 1093.3L1328.9 1095.3L1329.1 1097.3L1329.3 1099.3L1329.5 1101.3L1329.7 1103.2L1329.9 1105.2L1330.1 1107.2L1330.3 1109.2L1330.5 1111.2L1330.7 1113.2L1330.9 1115.2L1331.1 1117.2L1331.3 1119.2L1331.5 1121.2L1331.7 1123.1L1331.9 1125.1L1332.1 1127.1L1332.3 1129.1L1332.4 1131.1L1332.6 1133.1L1332.8 1135.1L1333.0 1137.1L1333.2 1139.1L1333.4 1141.1L1333.6 1143.0L1333.8 1145.0L1334.0 1147.0L1334.2 1149.0L1334.4 1151.0L1334.6 1153.0L1334.8 1155.0L1335.0 1157.0L1335.2 1159.0L1335.4 1161.0L1335.6 1162.9L1335.8 1164.9L1336.0 1166.9L1336.1 1168.9L1336.3 1170.9L1336.5 1172.9L1336.7 1174.9L1336.9 1176.9L1337.1 1178.9L1337.3 1180.9L1337.5 1182.8L1337.7 1184.8L1337.9 1186.8L1338.1 1188.8L1338.3 1190.8L1338.5 1192.8L1338.7 1194.8L1338.9 1196.8L1339.1 1198.8L1339.3 1200.7L1339.5 1202.7L1339.7 1204.7L1339.9 1206.7L1340.1 1208.7L1340.3 1210.7L1340.5 1212.7L1340.7 1214.7L1340.9 1216.7L1341.1 1218.7L1341.3 1220.6L1341.5 1222.6L1341.7 1224.6L1341.9 1226.6L1342.1 1228.6L1342.3 1230.6L1342.4 1232.6L1342.6 1234.6L1342.8 1236.6L1343.0 1238.6L1343.2 1240.5L1343.4 1242.5L1343.6 1244.5L1343.7 1246.5L1343.9 1248.5L1344.1 1250.5L1344.3 1252.5L1344.5 1254.5L1344.6 1256.5L1344.8 1258.5L1345.0 1260.5L1345.1 1262.5L1345.3 1264.4L1345.5 1266.4L1345.6 1268.4L1345.8 1270.4L1346.0 1272.4L1346.1 1274.4L1346.3 1276.4L1346.4 1278.4L1346.6 1280.4L1346.8 1282.4L1346.9 1284.4L1347.1 1286.4L1347.3 1288.4L1347.4 1290.3L1347.6 1292.3L1347.7 1294.3L1347.9 1296.3L1348.1 1298.3L1348.2 1300.3L1348.4 1302.3L1348.6 1304.3L1348.8 1306.3L1348.9 1308.3L1349.1 1310.3L1349.3 1312.3L1349.4 1314.3L1349.6 1316.2L1349.8 1318.2L1350.0 1320.2L1350.2 1322.2L1350.4 1324.2L1350.5 1326.2L1350.7 1328.2L1350.9 1330.2L1351.1 1332.2L1351.3 1334.2L1351.5 1336.2L1351.7 1338.1L1351.9 1340.1L1352.1 1342.1L1352.3 1344.1L1352.5 1346.1L1352.7 1348.1L1352.9 1350.1L1353.2 1352.1L1353.4 1354.0L1353.6 1356.0L1353.8 1358.0L1354.0 1360.0L1354.3 1362.0L1354.5 1364.0L1354.7 1366.0L1354.9 1368.0L1355.2 1369.9L1355.4 1371.9L1355.6 1373.9L1355.9 1375.9L1356.1 1377.9L1356.3 1379.9L1356.6 1381.9L1356.8 1383.8L1357.0 1385.8L1357.3 1387.8L1357.5 1389.8L1357.7 1391.8L1358.0 1393.8L1358.2 1395.8L1358.4 1397.7L1358.7 1399.7L1358.9 1401.7L1359.1 1403.7L1359.4 1405.7L1359.6 1407.7L1359.8 1409.7L1360.1 1411.6L1360.3 1413.6L1360.5 1415.6L1360.8 1417.6L1361.0 1419.6L1361.3 1421.6L1361.5 1423.6L1361.7 1425.5L1362.0 1427.5L1362.3 1429.5L1362.5 1431.5L1362.8 1433.5L1363.0 1435.4L1363.3 1437.4L1363.6 1439.4L1363.9 1441.4L1364.1 1443.3L1364.4 1445.3L1364.7 1447.3L1365.0 1449.3L1365.4 1451.2L1365.7 1453.2L1366.0 1455.2L1366.3 1457.1L1366.7 1459.1L1367.0 1461.1L1367.4 1463.1L1367.7 1465.0L1368.1 1467.0L1368.4 1469.0L1368.8 1470.9L1369.2 1472.9L1369.5 1474.9L1369.9 1476.8L1370.3 1478.8L1370.6 1480.8L1371.0 1482.8L1371.3 1484.8L1371.6 1486.8L1372.0 1488.8L1372.3 1490.8L1372.6 1492.8L1373.0 1494.8L1373.3 1496.8L1373.6 1498.8L1374.0 1500.9L1374.3 1502.9L1374.6 1504.9L1375.0 1506.9L1375.4 1509.0L1375.8 1511.0L1376.2 1513.0L1376.6 1515.0L1377.0 1517.0L1377.5 1518.9L1378.0 1520.9L1378.6 1522.8L1379.2 1524.7L1379.8 1526.6L1380.5 1528.4L1381.3 1530.2L1382.1 1531.9L1383.0 1533.5L1384.0 1535.1L1385.0 1536.6L1386.2 1538.0L1387.4 1539.4L1388.7 1540.6L1390.1 1541.7L1391.5 1542.7L1393.1 1543.7L1394.7 1544.5L1396.3 1545.2L1398.1 1545.8L1399.9 1546.3L1401.7 1546.7L1403.6 1547.1L1405.5 1547.4L1407.4 1547.7L1409.4 1547.9L1411.4 1548.1L1413.4 1548.3L1415.4 1548.4L1417.4 1548.5L1419.5 1548.6L1421.5 1548.6L1423.6 1548.7L1425.6 1548.7L1427.7 1548.7L1429.7 1548.7L1431.8 1548.7L1433.9 1548.7L1435.9 1548.7L1438.0 1548.7L1440.1 1548.7L1442.1 1548.7L1444.2 1548.7L1446.2 1548.8L1448.2 1548.8L1450.3 1548.8L1452.3 1548.8L1454.3 1548.9L1456.3 1548.9L1458.4 1549.0L1460.4 1549.0L1462.4 1549.1L1464.4 1549.1L1466.4 1549.2L1468.4 1549.2L1470.4 1549.3L1472.4 1549.4L1474.4 1549.4L1476.4 1549.5L1478.4 1549.6L1480.4 1549.6L1482.4 1549.7L1484.4 1549.8L1486.4 1549.9L1488.4 1549.9L1490.3 1550.0L1492.3 1550.1L1494.3 1550.1L1496.3 1550.2L1498.3 1550.3L1500.3 1550.3L1502.3 1550.4L1504.3 1550.5L1506.3 1550.6L1508.3 1550.6L1510.3 1550.7L1512.3 1550.8L1514.3 1550.8L1516.3 1550.9L1518.3 1550.9L1520.3 1551.0L1522.3 1551.1L1524.3 1551.1L1526.3 1551.2L1528.3 1551.2L1530.3 1551.3L1532.3 1551.4L1534.2 1551.4L1536.2 1551.5L1538.2 1551.5L1540.2 1551.6L1542.2 1551.6L1544.2 1551.7L1546.2 1551.8L1548.2 1551.8L1550.2 1551.9L1552.2 1551.9L1554.2 1552.0L1556.2 1552.0L1558.2 1552.1L1560.2 1552.1L1562.2 1552.2L1564.2 1552.2L1566.2 1552.2L1568.2 1552.3L1570.2 1552.3L1572.2 1552.4L1574.2 1552.4L1576.2 1552.5L1578.2 1552.5L1580.2 1552.6L1582.2 1552.6L1584.2 1552.6L1586.2 1552.7L1588.2 1552.7L1590.2 1552.8L1592.2 1552.8L1594.2 1552.8L1596.2 1552.9L1598.2 1552.9L1600.2 1553.0L1602.2 1553.0L1604.2 1553.0L1606.2 1553.1L1608.2 1553.1L1610.2 1553.1L1612.2 1553.2L1614.2 1553.2L1616.2 1553.2L1618.2 1553.3L1620.2 1553.3L1622.2 1553.4L1624.2 1553.4L1626.2 1553.4L1628.2 1553.4L1630.2 1553.5L1632.2 1553.5L1634.2 1553.5L1636.2 1553.6L1638.2 1553.6L1640.2 1553.6L1642.2 1553.7L1644.2 1553.7L1646.2 1553.7L1648.2 1553.7L1650.2 1553.8L1652.2 1553.8L1654.2 1553.8L1656.2 1553.9L1658.2 1553.9L1660.2 1553.9L1662.2 1553.9L1664.2 1554.0L1666.2 1554.0L1668.2 1554.0L1670.2 1554.0L1672.2 1554.1L1674.2 1554.1L1676.2 1554.1L1678.2 1554.1L1680.2 1554.2L1682.2 1554.2L1684.2 1554.2L1686.2 1554.2L1688.2 1554.3L1690.2 1554.3L1692.2 1554.3L1694.2 1554.3L1696.2 1554.4L1698.2 1554.4L1700.2 1554.4L1702.2 1554.4L1704.2 1554.4L1706.2 1554.5L1708.2 1554.5L1710.2 1554.5L1712.2 1554.5L1714.2 1554.6L1716.2 1554.6L1718.2 1554.6L1720.2 1554.6L1722.2 1554.6L1724.2 1554.7L1726.2 1554.7L1728.2 1554.7L1730.2 1554.7L1732.2 1554.8L1734.2 1554.8L1736.2 1554.8L1738.2 1554.8L1740.2 1554.8L1742.2 1554.9L1744.2 1554.9L1746.2 1554.9L1748.2 1554.9L1750.2 1554.9L1752.2 1555.0L1754.2 1555.0L1756.2 1555.0L1758.2 1555.0L1760.2 1555.0L1762.2 1555.1L1764.2 1555.1L1766.2 1555.1L1768.2 1555.1L1770.2 1555.1L1772.2 1555.2L1774.2 1555.2L1776.2 1555.2L1778.2 1555.2L1780.2 1555.2L1782.2 1555.2L1784.2 1555.3L1786.2 1555.3L1788.2 1555.3L1790.2 1555.3L1792.2 1555.3L1794.2 1555.4L1796.1 1555.4L1798.1 1555.4L1800.1 1555.4L1802.1 1555.4L1804.1 1555.4L1806.1 1555.5L1808.1 1555.5L1810.1 1555.5L1812.1 1555.5L1814.1 1555.5L1816.1 1555.5L1818.1 1555.6L1820.1 1555.6L1822.1 1555.6L1824.1 1555.6L1826.1 1555.6L1828.1 1555.6L1830.1 1555.7L1832.1 1555.7L1834.1 1555.7L1836.1 1555.7L1838.1 1555.7L1840.1 1555.7L1842.1 1555.8L1844.1 1555.8L1846.1 1555.8L1848.1 1555.8L1850.1 1555.8L1852.1 1555.8L1854.1 1555.9L1856.1 1555.9L1858.1 1555.9L1860.1 1555.9L1862.1 1555.9L1864.1 1555.9L1866.1 1556.0L1868.1 1556.0L1870.1 1556.0L1872.1 1556.0L1874.1 1556.0L1876.1 1556.0L1878.1 1556.0L1880.1 1556.1L1882.1 1556.1L1884.1 1556.1L1886.1 1556.1L1888.1 1556.1L1890.1 1556.1L1892.1 1556.1L1894.1 1556.2L1896.1 1556.2L1898.1 1556.2L1900.1 1556.2L1902.1 1556.2L1904.1 1556.2L1906.1 1556.3L1908.1 1556.3L1910.1 1556.3L1912.1 1556.3L1914.1 1556.3L1916.1 1556.3L1918.1 1556.3L1920.1 1556.4L1922.1 1556.4L1924.1 1556.4L1926.1 1556.4L1928.1 1556.4L1930.1 1556.4L1932.1 1556.4L1934.1 1556.5L1936.1 1556.5L1938.1 1556.5L1940.1 1556.5L1942.1 1556.5L1944.1 1556.5L1946.1 1556.5L1948.1 1556.5L1950.1 1556.6L1952.1 1556.6L1954.1 1556.6L1956.1 1556.6L1958.1 1556.6L1960.1 1556.6L1962.1 1556.6L1964.1 1556.7L1966.1 1556.7L1968.1 1556.7L1970.1 1556.7L1972.1 1556.7L1974.1 1556.7L1976.1 1556.7L1978.1 1556.8L1980.1 1556.8L1982.1 1556.8L1984.1 1556.8L1986.1 1556.8L1988.1 1556.8L1990.1 1556.8L1992.1 1556.8L1994.1 1556.9L1996.1 1556.9L1998.1 1556.9L2000.1 1556.9L2002.1 1556.9L2004.1 1556.9L2006.1 1556.9L2008.1 1557.0L2010.1 1557.0L2012.1 1557.0L2014.1 1557.0L2016.1 1557.0L2018.1 1557.0L2020.1 1557.0L2022.1 1557.0L2024.1 1557.1L2026.1 1557.1L2028.1 1557.1L2030.1 1557.1L2032.1 1557.1L2034.1 1557.1L2036.1 1557.1L2038.1 1557.2L2040.1 1557.2L2042.1 1557.2L2044.1 1557.2L2046.1 1557.2L2048.0 1557.2L2050.0 1557.2L2052.0 1557.3L2054.0 1557.3L2056.0 1557.3L2058.0 1557.3L2060.0 1557.3L2062.0 1557.3L2064.0 1557.3L2066.0 1557.3L2068.0 1557.4L2070.0 1557.4L2072.0 1557.4L2074.0 1557.4L2076.0 1557.4L2078.0 1557.4L2080.0 1557.4L2082.0 1557.5L2084.0 1557.5L2086.0 1557.5L2088.0 1557.5L2090.0 1557.5L2092.0 1557.5L2094.0 1557.5L2096.0 1557.5L2098.0 1557.6L2100.0 1557.6L2102.0 1557.6L2104.0 1557.6L2106.0 1557.6L2108.0 1557.6L2110.0 1557.6L2112.0 1557.7L2114.0 1557.7L2116.0 1557.7L2118.0 1557.7L2120.0 1557.7L2122.0 1557.7L2124.0 1557.7L2126.0 1557.7L2128.0 1557.8L2130.0 1557.8L2132.0 1557.8L2134.0 1557.8L2136.0 1557.8L2138.0 1557.8L2140.0 1557.8L2142.0 1557.9L2144.0 1557.9L2146.0 1557.9L2148.0 1557.9L2150.0 1557.9L2152.0 1557.9L2154.0 1557.9L2156.0 1557.9L2158.0 1558.0L2160.0 1558.0L2162.0 1558.0L2164.0 1558.0L2166.0 1558.0L2168.0 1558.0L2170.0 1558.0L2172.0 1558.1L2174.0 1558.1L2176.0 1558.1L2178.0 1558.1L2180.0 1558.1L2182.0 1558.1L2184.0 1558.1L2186.0 1558.1L2188.0 1558.2L2190.0 1558.2L2192.0 1558.2L2194.0 1558.2" stroke="#ff8000"/>
<path d="M331.0 192.6L333.0 191.2L335.0 191.1L337.0 191.2L339.0 190.6L341.0 190.9L343.0 190.6L345.0 190.1L347.0 191.6L349.0 191.7L351.0 190.9L353.0 191.0L355.0 191.5L357.0 191.1L359.0 190.6L361.0 190.3L363.0 191.3L365.0 191.6L367.0 191.2L369.0 190.7L371.0 192.2L373.0 191.8L375.0 191.7L377.0 192.8L379.0 191.5L381.0 190.2L383.0 190.1L385.0 189.9L387.0 191.5L389.0 191.2L391.0 191.1L393.0 191.6L395.0 190.7L397.0 190.9L399.0 189.9L401.0 190.2L403.0 190.8L405.0 192.7L407.0 193.1L409.0 192.0L411.0 192.0L413.0 191.8L415.0 191.7L417.0 190.6L419.0 189.6L421.0 189.9L423.0 191.9L425.0 193.3L427.0 192.2L429.0 191.7L431.0 192.9L433.0 192.2L435.0 191.7L437.0 191.7L439.0 191.4L441.0 190.8L443.0 190.5L445.0 191.4L447.0 191.8L449.0 192.2L451.0 191.0L453.0 189.9L455.0 191.3L457.0 192.5L459.0 191.3L461.0 190.3L463.0 190.0L465.0 190.2L467.0 190.6L469.0 190.8L471.0 192.1L473.0 191.6L475.0 191.7L476.9 192.8L478.9 192.7L480.9 191.6L482.9 191.7L484.9 191.8L486.9 190.8L488.9 190.1L490.9 191.5L492.9 192.1L494.9 191.5L496.9 190.6L498.9 190.6L500.9 190.6L502.9 191.1L504.9 192.4L506.9 192.8L508.9 192.2L510.9 191.9L512.9 191.8L514.9 191.3L516.9 190.9L518.9 190.6L520.9 191.5L522.9 193.0L524.9 192.2L526.9 190.9L528.9 190.4L530.9 190.4L532.9 191.2L534.9 191.0L536.9 190.2L538.9 190.9L540.9 191.1L542.9 192.0L544.9 192.0L546.9 192.2L548.9 191.1L550.9 190.8L552.9 191.5L554.9 192.0L556.9 191.4L558.9 190.3L560.9 190.8L562.9 191.0L564.9 190.6L566.9 190.9L568.9 192.0L570.9 191.0L572.9 190.5L574.9 191.3L576.9 191.3L578.9 191.3L580.9 191.8L582.9 191.8L584.9 191.7L586.9 192.0L588.9 191.4L590.9 190.6L592.9 190.5L594.9 190.7L596.9 190.8L598.9 189.9L600.9 189.5L602.9 190.3L604.9 189.6L606.9 189.4L608.9 190.7L610.9 190.8L612.9 191.2L614.9 190.6L616.9 189.9L618.9 189.8L620.9 190.4L622.9 190.7L624.9 190.5L626.9 190.4L628.9 190.0L630.9 190.4L632.9 189.9L634.9 190.9L636.9 192.1L638.9 192.7L640.9 192.5L642.9 190.9L644.9 191.9L646.9 192.7L648.9 192.2L650.9 191.1L652.9 192.0L654.9 192.5L656.9 191.0L658.9 191.7L660.9 192.2L662.9 191.4L664.9 191.5L666.9 190.6L668.9 190.4L670.9 190.8L672.9 191.5L674.9 191.8L676.9 192.0L678.9 191.1L680.9 191.6L682.9 192.4L684.9 192.0L686.9 191.0L688.9 191.7L690.9 191.6L692.9 192.0L694.9 192.4L696.9 192.8L698.9 191.7L700.9 190.2L702.9 190.5L704.9 192.0L706.9 192.2L708.9 192.8L710.9 192.3L712.9 191.8L714.9 192.4L716.9 191.2L718.9 190.9L720.9 192.6L722.9 191.4L724.9 192.4L726.9 193.0L728.9 192.1L730.9 191.3L732.9 192.2L734.9 191.1L736.9 190.9L738.9 191.9L740.9 192.9L742.9 193.1L744.9 193.0L746.9 192.3L748.9 192.0L750.9 191.6L752.9 192.2L754.9 192.9L756.9 192.7L758.8 192.8L760.8 192.2L762.8 192.2L764.8 192.6L766.8 192.8L768.8 193.3L770.8 193.6L772.8 194.2L774.8 193.1L776.8 192.5L778.8 192.2L780.8 192.9L782.8 193.3L784.8 192.7L786.8 193.0L788.8 193.6L790.8 193.1L792.8 193.0L794.8 193.8L796.8 193.6L798.8 193.9L800.8 194.5L802.8 194.3L804.8 193.2L806.8 192.9L808.8 193.3L810.8 192.8L812.8 192.3L814.8 193.8L816.8 193.9L818.8 193.7L820.8 193.1L822.8 193.9L824.8 193.3L826.8 192.9L828.8 192.3L830.8 192.9L832.8 193.2L834.8 193.4L836.8 193.8L838.8 193.9L840.8 194.1L842.8 193.2L844.8 192.7L846.8 193.4L848.8 194.3L850.8 194.8L852.8 194.0L854.8 192.6L856.8 193.8L858.8 194.8L860.8 193.9L862.8 193.3L864.8 193.6L866.8 193.5L868.8 194.0L870.8 194.2L872.8 194.8L874.8 194.2L876.8 193.5L878.8 194.2L880.8 194.4L882.8 193.4L884.8 192.7L886.8 192.2L888.8 193.6L890.8 193.0L892.8 191.6L894.8 191.9L896.8 193.4L898.8 194.3L900.8 194.1L902.8 193.9L904.8 192.9L906.8 192.9L908.8 194.3L910.8 194.5L912.8 194.4L914.8 194.7L916.8 193.5L918.8 193.8L920.8 195.2L922.8 195.7L924.8 195.0L926.8 195.2L928.8 194.2L930.8 194.2L932.8 193.7L934.8 193.1L936.8 194.2L938.8 195.0L940.8 194.4L942.8 194.6L944.8 195.0L946.8 193.4L948.8 192.8L950.8 193.2L952.8 193.7L954.8 195.2L956.8 194.8L958.8 193.8L960.8 194.6L962.8 196.3L964.8 194.7L966.8 194.0L968.8 194.9L970.8 195.3L972.8 194.8L974.8 193.9L976.8 193.8L978.8 194.9L980.8 194.5L982.8 194.0L984.8 195.6L986.8 195.8L988.8 195.0L990.8 194.8L992.8 195.0L994.8 194.3L996.8 194.0L998.8 194.6L1000.8 194.3L1002.8 194.7L1004.8 194.3L1006.8 194.8L1008.8 195.6L1010.7 196.3L1012.7 194.7L1014.7 193.9L1016.7 194.3L1018.7 194.3L1020.7 194.9L1022.7 195.9L1024.7 196.7L1026.7 196.9L1028.7 196.3L1030.7 198.0L1032.7 197.8L1034.7 195.6L1036.7 194.1L1038.7 195.2L1040.7 195.3L1042.7 194.3L1044.7 195.3L1046.7 195.6L1048.7 195.6L1050.7 196.6L1052.7 196.9L1054.7 196.1L1056.7 196.1L1058.7 195.6L1060.7 195.5L1062.7 196.3L1064.7 196.6L1066.7 195.5L1068.7 194.8L1070.7 195.8L1072.7 195.5L1074.7 196.7L1076.7 197.9L1078.7 196.7L1080.7 195.4L1082.7 195.6L1084.7 197.1L1086.7 197.2L1088.7 197.4L1090.7 197.6L1092.7 196.9L1094.7 196.3L1096.7 195.3L1098.7 194.0L1100.7 195.0L1102.7 196.5L1104.7 197.0L1106.7 197.3L1108.7 197.2L1110.7 197.4L1112.7 197.5L1114.7 196.7L1116.7 196.4L1118.7 196.2L1120.7 197.6L1122.7 197.7L1124.7 198.2L1126.7 199.0L1128.7 198.6L1130.7 197.9L1132.7 197.7L1134.7 196.8L1136.7 197.5L1138.7 197.4L1140.7 196.8L1142.7 198.0L1144.7 197.7L1146.7 197.9L1148.7 197.9L1150.7 198.7L1152.7 198.8L1154.7 197.2L1156.7 196.5L1158.7 197.6L1160.7 198.4L1162.7 197.7L1164.7 197.5L1166.7 197.4L1168.7 195.9L1170.7 196.5L1172.7 196.9L1174.7 197.7L1176.7 197.4L1178.7 197.0L1180.7 197.2L1182.7 197.0L1184.7 197.7L1186.7 197.7L1188.7 197.7L1190.7 198.0L1192.7 198.8L1194.6 198.7L1196.6 198.9L1198.6 198.7L1200.6 198.2L1202.6 198.8L1204.6 199.0L1206.6 198.8L1208.6 198.3L1210.6 198.5L1212.6 199.7L1214.6 200.3L1216.6 198.8L1218.6 198.9L1220.6 198.9L1222.6 199.4L1224.6 199.6L1226.6 199.0L1228.6 197.0L1230.6 197.5L1232.6 198.0L1234.6 198.4L1236.6 198.3L1238.6 198.6L1240.6 199.9L1242.6 200.0L1244.6 197.5L1246.6 198.3L1248.6 199.3L1250.6 199.2L1252.6 198.7L1254.6 198.0L1256.6 198.5L1258.6 200.0L1260.6 200.4L1262.6 199.6L1264.6 199.0L1266.6 199.4L1268.6 199.6L1270.7 200.0L1272.7 199.8L1274.7 199.3L1276.7 199.4L1278.7 199.2L1280.7 200.5L1282.7 200.7L1284.7 199.5L1286.7 199.8L1288.7 199.7L1290.7 200.9L1292.7 201.1L1294.7 200.6L1296.7 200.8L1298.7 200.1L1300.8 199.7L1302.8 199.8L1304.8 200.2L1306.8 200.3L1308.8 200.5L1310.8 200.5L1312.8 201.4L1314.8 201.6L1316.9 200.5L1318.9 200.0L1320.9 201.5L1322.9 202.1L1324.9 201.1L1326.9 200.5L1328.9 201.7L1330.9 202.3L1333.0 200.8L1335.0 201.6L1337.0 201.6L1339.0 201.5L1341.0 202.0L1343.0 201.6L1345.0 202.8L1347.0 203.8L1349.0 203.1L1351.0 202.0L1353.0 201.3L1355.0 201.5L1357.0 202.3L1359.0 204.4L1361.0 204.0L1363.0 203.1L1365.0 203.0L1367.0 203.6L1369.0 204.3L1370.9 204.9L1372.9 206.2L1374.9 205.8L1376.8 206.0L1378.8 207.0L1380.7 207.9L1382.7 208.1L1384.6 208.0L1386.5 208.5L1388.5 209.0L1390.4 209.5L1392.3 209.9L1394.2 210.5L1396.1 211.1L1397.9 211.7L1399.8 212.3L1401.7 212.9L1403.5 213.6L1405.3 214.3L1407.2 215.1L1409.0 215.8L1410.8 216.6L1412.5 217.4L1414.3 218.3L1416.1 219.1L1417.8 220.1L1419.5 221.0L1421.3 221.9L1423.0 222.9L1424.6 223.9L1426.3 225.0L1428.0 226.0L1429.6 227.1L1431.2 228.2L1432.8 229.4L1434.4 230.5L1436.0 231.7L1437.6 232.9L1439.1 234.2L1440.6 235.4L1442.1 236.7L1443.6 238.0L1445.1 239.3L1446.6 240.6L1448.0 242.0L1449.4 243.4L1450.8 244.8L1452.2 246.2L1453.6 247.6L1455.0 249.0L1456.3 250.5L1457.7 252.0L1459.0 253.5L1460.3 255.0L1461.6 256.5L1462.8 258.0L1464.1 259.6L1465.3 261.1L1466.6 262.7L1467.8 264.3L1469.0 265.9L1470.2 267.5L1471.3 269.1L1472.5 270.7L1473.6 272.4L1474.7 274.0L1475.9 275.7L1477.0 277.4L1478.0 279.0L1479.1 280.7L1480.2 282.4L1481.3 284.1L1482.3 285.8L1483.3 287.6L1484.4 289.3L1485.4 291.0L1486.4 292.8L1487.4 294.5L1488.4 296.2L1489.4 298.0L1490.4 299.7L1491.4 301.5L1492.3 303.3L1493.3 305.0L1494.3 306.8L1495.2 308.6L1496.1 310.3L1497.1 312.1L1498.0 313.9L1498.9 315.7L1499.9 317.5L1500.8 319.2L1501.7 321.0L1502.6 322.8L1503.5 324.6L1504.3 326.4L1505.2 328.2L1506.1 330.1L1507.0 331.9L1507.8 333.7L1508.7 335.5L1509.5 337.3L1510.3 339.2L1511.1 341.0L1512.0 342.8L1512.8 344.7L1513.6 346.5L1514.4 348.3L1515.1 350.2L1515.9 352.0L1516.7 353.9L1517.4 355.7L1518.2 357.6L1518.9 359.4L1519.7 361.3L1520.4 363.2L1521.1 365.0L1521.8 366.9L1522.5 368.8L1523.2 370.6L1523.9 372.5L1524.6 374.4L1525.3 376.3L1526.0 378.2L1526.6 380.1L1527.3 381.9L1527.9 383.8L1528.6 385.7L1529.2 387.6L1529.8 389.5L1530.4 391.4L1531.0 393.3L1531.7 395.2L1532.2 397.1L1532.8 399.1L1533.4 401.0L1534.0 402.9L1534.6 404.8L1535.1 406.7L1535.7 408.6L1536.3 410.6L1536.8 412.5L1537.3 414.4L1537.9 416.3L1538.4 418.3L1538.9 420.2L1539.4 422.1L1540.0 424.0L1540.5 426.0L1541.0 427.9L1541.5 429.9L1542.0 431.8L1542.5 433.7L1542.9 435.7L1543.4 437.6L1543.9 439.5L1544.4 441.5L1544.9 443.4L1545.3 445.4L1545.8 447.3L1546.2 449.3L1546.7 451.2L1547.2 453.2L1547.6 455.1L1548.1 457.1L1548.5 459.0L1549.0 461.0L1549.4 462.9L1549.8 464.9L1550.3 466.8L1550.7 468.8L1551.1 470.7L1551.6 472.7L1552.0 474.6L1552.5 476.6L1552.9 478.5L1553.3 480.5L1553.8 482.4L1554.2 484.4L1554.6 486.3L1555.0 488.3L1555.5 490.2L1555.9 492.2L1556.3 494.1L1556.8 496.1L1557.2 498.1L1557.7 500.0L1558.1 502.0L1558.5 503.9L1559.0 505.9L1559.4 507.8L1559.9 509.8L1560.3 511.7L1560.8 513.7L1561.2 515.6L1561.7 517.5L1562.1 519.5L1562.5 521.4L1563.0 523.4L1563.4 525.3L1563.9 527.3L1564.3 529.2L1564.8 531.2L1565.2 533.1L1565.6 535.1L1566.1 537.0L1566.5 539.0L1566.9 540.9L1567.4 542.9L1567.8 544.9L1568.2 546.8L1568.6 548.8L1569.0 550.7L1569.4 552.7L1569.8 554.6L1570.2 556.6L1570.6 558.5L1571.0 560.5L1571.4 562.5L1571.8 564.4L1572.2 566.4L1572.6 568.3L1573.0 570.3L1573.4 572.3L1573.7 574.2L1574.1 576.2L1574.5 578.2L1574.8 580.1L1575.2 582.1L1575.6 584.1L1575.9 586.0L1576.3 588.0L1576.6 590.0L1577.0 591.9L1577.3 593.9L1577.7 595.9L1578.0 597.8L1578.4 599.8L1578.7 601.8L1579.1 603.7L1579.4 605.7L1579.7 607.7L1580.1 609.6L1580.4 611.6L1580.7 613.6L1581.1 615.6L1581.4 617.5L1581.7 619.5L1582.1 621.5L1582.4 623.5L1582.7 625.4L1583.0 627.4L1583.3 629.4L1583.7 631.3L1584.0 633.3L1584.3 635.3L1584.6 637.3L1584.9 639.2L1585.2 641.2L1585.6 643.2L1585.9 645.2L1586.2 647.1L1586.5 649.1L1586.8 651.1L1587.1 653.1L1587.4 655.0L1587.7 657.0L1588.0 659.0L1588.3 661.0L1588.6 662.9L1589.0 664.9L1589.3 666.9L1589.6 668.9L1589.9 670.9L1590.2 672.8L1590.5 674.8L1590.8 676.8L1591.1 678.8L1591.4 680.7L1591.7 682.7L1592.0 684.7L1592.3 686.7L1592.6 688.6L1592.9 690.6L1593.2 692.6L1593.5 694.6L1593.8 696.6L1594.1 698.5L1594.3 700.5L1594.6 702.5L1594.9 704.5L1595.2 706.4L1595.5 708.4L1595.8 710.4L1596.1 712.4L1596.4 714.4L1596.7 716.3L1596.9 718.3L1597.2 720.3L1597.5 722.3L1597.8 724.3L1598.1 726.2L1598.4 728.2L1598.6 730.2L1598.9 732.2L1599.2 734.1L1599.5 736.1L1599.8 738.1L1600.0 740.1L1600.3 742.1L1600.6 744.0L1600.9 746.0L1601.1 748.0L1601.4 750.0L1601.7 752.0L1602.0 754.0L1602.2 755.9L1602.5 757.9L1602.8 759.9L1603.0 761.9L1603.3 763.9L1603.6 765.8L1603.8 767.8L1604.1 769.8L1604.4 771.8L1604.6 773.8L1604.9 775.7L1605.2 777.7L1605.4 779.7L1605.7 781.7L1606.0 783.7L1606.2 785.7L1606.5 787.6L1606.7 789.6L1607.0 791.6L1607.2 793.6L1607.5 795.6L1607.8 797.6L1608.0 799.5L1608.3 801.5L1608.5 803.5L1608.8 805.5L1609.0 807.5L1609.3 809.5L1609.5 811.4L1609.8 813.4L1610.0 815.4L1610.3 817.4L1610.5 819.4L1610.8 821.4L1611.0 823.3L1611.3 825.3L1611.5 827.3L1611.8 829.3L1612.0 831.3L1612.3 833.3L1612.6 835.2L1612.8 837.2L1613.1 839.2L1613.3 841.2L1613.6 843.2L1613.8 845.2L1614.1 847.1L1614.3 849.1L1614.6 851.1L1614.8 853.1L1615.1 855.1L1615.4 857.0L1615.6 859.0L1615.9 861.0L1616.1 863.0L1616.4 865.0L1616.7 867.0L1616.9 868.9L1617.2 870.9L1617.5 872.9L1617.7 874.9L1618.0 876.9L1618.3 878.8L1618.5 880.8L1618.8 882.8L1619.1 884.8L1619.4 886.8L1619.6 888.8L1619.9 890.7L1620.2 892.7L1620.4 894.7L1620.7 896.7L1621.0 898.7L1621.3 900.6L1621.5 902.6L1621.8 904.6L1622.1 906.6L1622.4 908.6L1622.7 910.5L1622.9 912.5L1623.2 914.5L1623.5 916.5L1623.8 918.5L1624.1 920.4L1624.3 922.4L1624.6 924.4L1624.9 926.4L1625.2 928.3L1625.5 930.3L1625.8 932.3L1626.1 934.3L1626.3 936.3L1626.6 938.2L1626.9 940.2L1627.2 942.2L1627.5 944.2L1627.8 946.2L1628.1 948.1L1628.4 950.1L1628.7 952.1L1628.9 954.1L1629.2 956.0L1629.5 958.0L1629.8 960.0L1630.1 962.0L1630.4 964.0L1630.7 965.9L1631.0 967.9L1631.3 969.9L1631.6 971.9L1631.9 973.8L1632.2 975.8L1632.5 977.8L1632.7 979.8L1633.0 981.8L1633.3 983.7L1633.6 985.7L1633.9 987.7L1634.2 989.7L1634.5 991.6L1634.8 993.6L1635.0 995.6L1635.3 997.6L1635.6 999.6L1635.9 1001.5L1636.2 1003.5L1636.4 1005.5L1636.7 1007.5L1637.0 1009.5L1637.3 1011.4L1637.5 1013.4L1637.8 1015.4L1638.1 1017.4L1638.4 1019.4L1638.6 1021.3L1638.9 1023.3L1639.2 1025.3L1639.5 1027.3L1639.7 1029.3L1640.0 1031.2L1640.3 1033.2L1640.6 1035.2L1640.8 1037.2L1641.1 1039.2L1641.4 1041.1L1641.7 1043.1L1642.0 1045.1L1642.3 1047.1L1642.6 1049.0L1642.8 1051.0L1643.1 1053.0L1643.4 1055.0L1643.7 1057.0L1644.0 1058.9L1644.3 1060.9L1644.6 1062.9L1644.9 1064.9L1645.2 1066.8L1645.5 1068.8L1645.9 1070.8L1646.2 1072.8L1646.5 1074.7L1646.8 1076.7L1647.1 1078.7L1647.4 1080.7L1647.7 1082.6L1648.0 1084.6L1648.3 1086.6L1648.7 1088.6L1649.0 1090.5L1649.3 1092.5L1649.6 1094.5L1649.9 1096.5L1650.2 1098.4L1650.5 1100.4L1650.8 1102.4L1651.2 1104.4L1651.5 1106.3L1651.8 1108.3L1652.1 1110.3L1652.4 1112.3L1652.7 1114.3L1653.0 1116.2L1653.3 1118.2L1653.6 1120.2L1654.0 1122.2L1654.3 1124.1L1654.6 1126.1L1654.9 1128.1L1655.2 1130.1L1655.6 1132.0L1655.9 1134.0L1656.2 1136.0L1656.5 1138.0L1656.9 1140.0L1657.2 1141.9L1657.5 1143.9L1657.9 1145.9L1658.2 1147.9L1658.6 1149.8L1658.9 1151.8L1659.3 1153.8L1659.6 1155.7L1660.0 1157.7L1660.3 1159.7L1660.7 1161.7L1661.1 1163.6L1661.5 1165.6L1661.8 1167.6L1662.2 1169.5L1662.6 1171.5L1663.0 1173.4L1663.4 1175.4L1663.9 1177.4L1664.3 1179.3L1664.7 1181.3L1665.2 1183.2L1665.6 1185.2L1666.1 1187.1L1666.5 1189.1L1667.0 1191.0L1667.5 1193.0L1668.0 1194.9L1668.5 1196.8L1669.0 1198.8L1669.5 1200.7L1670.0 1202.6L1670.6 1204.6L1671.1 1206.5L1671.7 1208.4L1672.3 1210.3L1672.8 1212.2L1673.4 1214.1L1674.1 1216.1L1674.7 1218.0L1675.3 1219.8L1676.0 1221.7L1676.6 1223.6L1677.3 1225.5L1678.0 1227.4L1678.7 1229.2L1679.5 1231.1L1680.2 1233.0L1681.0 1234.8L1681.7 1236.7L1682.5 1238.5L1683.3 1240.3L1684.1 1242.2L1684.9 1244.0L1685.8 1245.8L1686.6 1247.6L1687.5 1249.4L1688.4 1251.2L1689.3 1253.0L1690.2 1254.8L1691.1 1256.5L1692.1 1258.3L1693.1 1260.0L1694.1 1261.7L1695.1 1263.4L1696.1 1265.1L1697.2 1266.8L1698.3 1268.4L1699.4 1270.1L1700.5 1271.7L1701.6 1273.3L1702.8 1274.9L1704.0 1276.5L1705.2 1278.0L1706.5 1279.5L1707.7 1281.1L1709.0 1282.5L1710.3 1284.0L1711.6 1285.4L1713.0 1286.9L1714.4 1288.3L1715.8 1289.6L1717.2 1291.0L1718.7 1292.3L1720.1 1293.6L1721.6 1294.9L1723.2 1296.1L1724.7 1297.3L1726.3 1298.5L1727.8 1299.7L1729.4 1300.9L1731.0 1302.0L1732.7 1303.1L1734.3 1304.2L1736.0 1305.2L1737.7 1306.2L1739.4 1307.2L1741.1 1308.2L1742.8 1309.2L1744.6 1310.1L1746.3 1311.0L1748.1 1311.9L1749.9 1312.7L1751.7 1313.5L1753.5 1314.3L1755.4 1315.1L1757.2 1315.9L1759.0 1316.6L1760.9 1317.3L1762.8 1318.0L1764.6 1318.7L1766.5 1319.4L1768.4 1320.0L1770.3 1320.6L1772.2 1321.2L1774.1 1321.8L1776.1 1322.3L1778.0 1322.9L1779.9 1323.4L1781.9 1323.9L1783.8 1324.4L1785.8 1324.9L1787.7 1325.5L1789.7 1326.0L1791.6 1325.8L1793.6 1326.0L1795.5 1326.4L1797.5 1326.9L1799.5 1327.2L1801.5 1328.3L1803.4 1328.7L1805.4 1328.8L1807.4 1329.0L1809.4 1329.7L1811.4 1330.2L1813.3 1330.4L1815.3 1330.4L1817.3 1330.8L1819.3 1330.6L1821.3 1331.2L1823.3 1329.6L1825.3 1330.5L1827.3 1331.4L1829.3 1332.4L1831.3 1332.4L1833.3 1333.6L1835.3 1333.2L1837.3 1334.8L1839.3 1334.6L1841.3 1334.3L1843.2 1335.1L1845.2 1336.4L1847.2 1335.3L1849.2 1333.8L1851.2 1335.4L1853.2 1335.3L1855.2 1334.6L1857.2 1335.5L1859.2 1335.3L1861.2 1336.0L1863.2 1336.4L1865.2 1336.3L1867.2 1336.8L1869.2 1336.4L1871.2 1336.9L1873.2 1337.0L1875.2 1337.8L1877.2 1339.2L1879.1 1338.3L1881.1 1337.4L1883.1 1337.8L1885.1 1338.0L1887.1 1338.7L1889.1 1339.2L1891.1 1339.4L1893.1 1339.4L1895.1 1339.5L1897.1 1340.4L1899.0 1340.9L1901.0 1340.2L1903.0 1340.5L1905.0 1341.2L1907.0 1342.3L1909.0 1342.2L1911.0 1341.3L1912.9 1341.2L1914.9 1340.6L1916.9 1341.1L1918.9 1342.3L1920.9 1343.3L1922.9 1343.6L1924.9 1342.7L1926.9 1342.3L1928.8 1343.4L1930.8 1343.8L1932.8 1344.2L1934.8 1344.6L1936.8 1345.1L1938.8 1345.4L1940.8 1345.4L1942.7 1345.1L1944.7 1345.6L1946.7 1345.3L1948.7 1346.0L1950.7 1347.2L1952.7 1346.3L1954.7 1345.7L1956.7 1347.3L1958.7 1347.8L1960.6 1347.7L1962.6 1347.3L1964.6 1347.1L1966.6 1346.8L1968.6 1347.0L1970.6 1348.1L1972.6 1347.4L1974.6 1347.1L1976.6 1347.8L1978.6 1349.4L1980.6 1349.0L1982.6 1348.1L1984.6 1348.3L1986.5 1349.0L1988.5 1348.9L1990.5 1347.9L1992.5 1349.0L1994.5 1348.8L1996.5 1348.4L1998.5 1348.9L2000.5 1350.2L2002.5 1351.0L2004.5 1350.3L2006.5 1349.9L2008.5 1349.5L2010.5 1350.3L2012.5 1350.4L2014.5 1349.2L2016.5 1349.8L2018.5 1350.4L2020.5 1349.4L2022.4 1350.2L2024.4 1350.8L2026.4 1349.8L2028.4 1350.5L2030.4 1351.5L2032.4 1351.8L2034.4 1351.2L2036.4 1352.4L2038.4 1352.8L2040.4 1353.4L2042.4 1353.5L2044.4 1353.1L2046.4 1352.5L2048.4 1351.2L2050.4 1351.1L2052.3 1351.8L2054.3 1352.9L2056.3 1353.4L2058.3 1352.3L2060.3 1352.6L2062.3 1352.3L2064.3 1352.8L2066.3 1354.8L2068.3 1355.2L2070.3 1356.0L2072.3 1355.6L2074.3 1353.9L2076.3 1353.8L2078.3 1356.0L2080.2 1355.1L2082.2 1354.6L2084.2 1355.7L2086.2 1355.7L2088.2 1355.3L2090.2 1355.6L2092.2 1356.2L2094.2 1356.5L2096.2 1356.9L2098.2 1356.4L2100.2 1356.5L2102.2 1357.3L2104.2 1357.6L2106.2 1357.9L2108.2 1357.3L2110.2 1356.9L2112.2 1357.0L2114.2 1358.0L2116.1 1357.1L2118.1 1357.4L2120.1 1357.5L2122.1 1358.3L2124.1 1358.4L2126.1 1357.3L2128.1 1357.5L2130.1 1357.6L2132.1 1359.2L2134.1 1358.4L2136.1 1357.5L2138.1 1358.5L2140.1 1360.4L2142.1 1361.1L2144.1 1360.6L2146.1 1359.3L2148.1 1359.8L2150.1 1360.7L2152.1 1359.7L2154.1 1359.3L2156.1 1359.0L2158.1 1359.4L2160.1 1361.1L2162.1 1361.3L2164.0 1361.2L2166.0 1361.5L2168.0 1362.1L2170.0 1362.2L2172.0 1361.3L2174.0 1360.6L2176.0 1360.6L2178.0 1361.6L2180.0 1360.9L2182.0 1360.2L2184.0 1361.0L2186.0 1361.8L2188.0 1362.7L2190.0 1362.7L2192.0 1361.5L2194.0 1361.1" stroke="#000000"/>
</g>
<line x1="1076.7" y1="44.4" x2="1076.7" y2="1566" stroke="#ff00ff" stroke-width="6" stroke-dasharray="25.6 25.1"/>
<line x1="1412.4" y1="44.4" x2="1412.4" y2="1566" stroke="#ff00ff" stroke-width="6" stroke-dasharray="25.6 25.1"/>
<g fill="#000" stroke="#000">
<line x1="1449.5" y1="303.4" x2="1614.2" y2="291.2" stroke-width="2"/>
<polygon points="1413.5,305.8 1448.5,294.3 1450.5,312.5" stroke="none"/>
<line x1="1044" y1="483.5" x2="929.2" y2="538.9" stroke-width="2"/>
<polygon points="1075.4,469.2 1039.2,475.4 1048.8,491.7" stroke="none"/>
</g>
<rect x="350.0" y="1072.0" width="759.5" height="468.4" fill="#fff"/>
<line x1="349.0" y1="1072.0" x2="1109.5" y2="1072.0" stroke="#c4c4c4" stroke-width="3"/>
<line x1="350.0" y1="1071.0" x2="350.0" y2="1540.4" stroke="#6e6e6e" stroke-width="1.9"/>
<line x1="1109.5" y1="1071.0" x2="1109.5" y2="1541.3" stroke="#000" stroke-width="1.8"/>
<line x1="349.0" y1="1540.4" x2="1110.4" y2="1540.4" stroke="#000" stroke-width="1.8"/>
<line x1="377" y1="1125.2" x2="554" y2="1125.2" stroke="#ff0000" stroke-width="7"/>
<text x="568.7" y="1151.8" font-size="77.3">PET 50 PLA 50</text>
<line x1="377" y1="1218.5" x2="554" y2="1218.5" stroke="#0000ff" stroke-width="7"/>
<text x="568.7" y="1245.1" font-size="77.3">PET 70 PLA 30</text>
<line x1="377" y1="1311.8" x2="554" y2="1311.8" stroke="#008000" stroke-width="7"/>
<text x="568.7" y="1338.4" font-size="77.3">PET 90 PLA 10</text>
<line x1="377" y1="1405.1" x2="554" y2="1405.1" stroke="#ff8000" stroke-width="7"/>
<text x="568.7" y="1431.7" font-size="77.3">PLA</text>
<line x1="377" y1="1498.4" x2="554" y2="1498.4" stroke="#000000" stroke-width="7"/>
<text x="568.7" y="1525.0" font-size="77.3">PET</text>
<g stroke="#000" fill="none">
<line x1="313.7" y1="48.8" x2="2198.8" y2="48.8" stroke-width="5.2"/>
<line x1="299.2" y1="1565.2" x2="2198.8" y2="1565.2" stroke-width="4.6"/>
<line x1="330.6" y1="46.2" x2="330.6" y2="1597.4" stroke-width="6.6"/>
<line x1="2195.8" y1="46.2" x2="2195.8" y2="1567.5" stroke-width="5.8"/>
<line x1="299.2" y1="1565.2" x2="330.6" y2="1565.2" stroke-width="3.9"/>
<line x1="313.7" y1="1427.3" x2="330.6" y2="1427.3" stroke-width="3.9"/>
<line x1="299.2" y1="1289.4" x2="330.6" y2="1289.4" stroke-width="3.9"/>
<line x1="313.7" y1="1151.5" x2="330.6" y2="1151.5" stroke-width="3.9"/>
<line x1="299.2" y1="1013.6" x2="330.6" y2="1013.6" stroke-width="3.9"/>
<line x1="313.7" y1="875.7" x2="330.6" y2="875.7" stroke-width="3.9"/>
<line x1="299.2" y1="737.8" x2="330.6" y2="737.8" stroke-width="3.9"/>
<line x1="313.7" y1="599.9" x2="330.6" y2="599.9" stroke-width="3.9"/>
<line x1="299.2" y1="462.0" x2="330.6" y2="462.0" stroke-width="3.9"/>
<line x1="313.7" y1="324.1" x2="330.6" y2="324.1" stroke-width="3.9"/>
<line x1="299.2" y1="186.2" x2="330.6" y2="186.2" stroke-width="3.9"/>
<line x1="313.7" y1="48.3" x2="330.6" y2="48.3" stroke-width="3.9"/>
<line x1="330.6" y1="1565.2" x2="330.6" y2="1597.4" stroke-width="6.2"/>
<line x1="517.1" y1="1565.2" x2="517.1" y2="1582" stroke-width="6.2"/>
<line x1="703.6" y1="1565.2" x2="703.6" y2="1597.4" stroke-width="6.2"/>
<line x1="890.2" y1="1565.2" x2="890.2" y2="1582" stroke-width="6.2"/>
<line x1="1076.7" y1="1565.2" x2="1076.7" y2="1597.4" stroke-width="6.2"/>
<line x1="1263.2" y1="1565.2" x2="1263.2" y2="1582" stroke-width="6.2"/>
<line x1="1449.7" y1="1565.2" x2="1449.7" y2="1597.4" stroke-width="6.2"/>
<line x1="1636.2" y1="1565.2" x2="1636.2" y2="1582" stroke-width="6.2"/>
<line x1="1822.8" y1="1565.2" x2="1822.8" y2="1597.4" stroke-width="6.2"/>
<line x1="2009.3" y1="1565.2" x2="2009.3" y2="1582" stroke-width="6.2"/>
<line x1="2195.8" y1="1565.2" x2="2195.8" y2="1597.4" stroke-width="6.2"/>
</g>
<text x="281.1" y="1590.0" font-size="84" text-anchor="end">0</text>
<text x="281.1" y="1314.2" font-size="84" text-anchor="end">20</text>
<text x="281.1" y="1038.4" font-size="84" text-anchor="end">40</text>
<text x="281.1" y="762.6" font-size="84" text-anchor="end">60</text>
<text x="281.1" y="486.8" font-size="84" text-anchor="end">80</text>
<text x="281.1" y="211.0" font-size="84" text-anchor="end">100</text>
<text x="330.6" y="1678" font-size="84" text-anchor="middle">100</text>
<text x="703.6" y="1678" font-size="84" text-anchor="middle">200</text>
<text x="1076.7" y="1678" font-size="84" text-anchor="middle">300</text>
<text x="1449.7" y="1678" font-size="84" text-anchor="middle">400</text>
<text x="1822.8" y="1678" font-size="84" text-anchor="middle">500</text>
<text x="2195.8" y="1678" font-size="84" text-anchor="middle">600</text>
<text transform="translate(113,1068.2) rotate(-90)" font-size="111">mass (%)</text>
<text x="996" y="1849.5" font-size="112.9">Temperature (</text>
<text x="1698.1" y="1795" font-size="66">o</text>
<text x="1735.9" y="1849.5" font-size="112.9">C</text>
<text x="1818.8" y="1849.5" font-size="112.9">)</text>
<text x="1630.3" y="269.6" font-size="76.4">Start of PET</text>
<text x="1630.3" y="361.5" font-size="76.4">degradation</text>
<text x="538.9" y="619.6" font-size="76.4">Start of PLA</text>
<text x="538.9" y="712.8" font-size="76.4">degradation</text>
<text y="2004" style="font-family:'Liberation Serif', serif"><tspan x="1108.1" font-size="85">(</tspan><tspan x="1135.6" y="2003" font-size="82" font-weight="bold">a</tspan><tspan x="1177.7" y="2004" font-size="85">)</tspan></text>
</svg></body></html>
